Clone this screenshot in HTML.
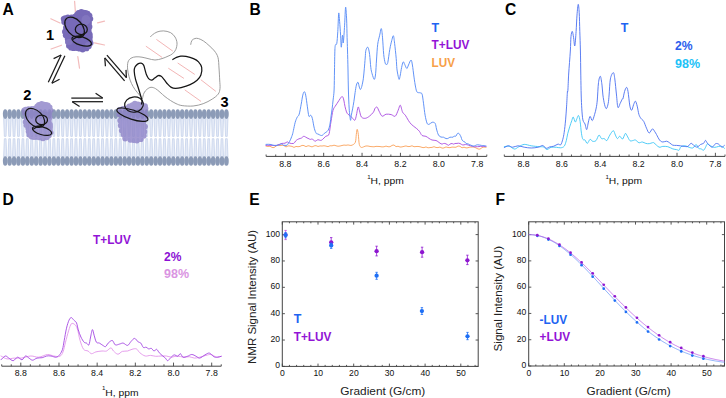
<!DOCTYPE html>
<html><head><meta charset="utf-8"><style>
html,body{margin:0;padding:0;background:#fff;}
svg{display:block;}
text{font-family:"Liberation Sans",sans-serif;}
</style></head><body>
<svg width="726" height="398" viewBox="0 0 726 398">
<rect width="726" height="398" fill="#fff"/>
<path d="M3.65,118 L4.35,136.4 L6.05,136.4 L6.75,118 M3.65,157 L4.35,138.7 L6.05,138.7 L6.75,157 M8.07,118 L8.77,136.4 L10.47,136.4 L11.17,118 M8.07,157 L8.77,138.7 L10.47,138.7 L11.17,157 M12.50,118 L13.20,136.4 L14.90,136.4 L15.60,118 M12.50,157 L13.20,138.7 L14.90,138.7 L15.60,157 M16.92,118 L17.62,136.4 L19.32,136.4 L20.02,118 M16.92,157 L17.62,138.7 L19.32,138.7 L20.02,157 M21.35,118 L22.05,136.4 L23.75,136.4 L24.45,118 M21.35,157 L22.05,138.7 L23.75,138.7 L24.45,157 M25.77,118 L26.47,136.4 L28.17,136.4 L28.87,118 M25.77,157 L26.47,138.7 L28.17,138.7 L28.87,157 M30.19,118 L30.89,136.4 L32.59,136.4 L33.29,118 M30.19,157 L30.89,138.7 L32.59,138.7 L33.29,157 M34.62,118 L35.32,136.4 L37.02,136.4 L37.72,118 M34.62,157 L35.32,138.7 L37.02,138.7 L37.72,157 M39.04,118 L39.74,136.4 L41.44,136.4 L42.14,118 M39.04,157 L39.74,138.7 L41.44,138.7 L42.14,157 M43.47,118 L44.17,136.4 L45.87,136.4 L46.57,118 M43.47,157 L44.17,138.7 L45.87,138.7 L46.57,157 M47.89,118 L48.59,136.4 L50.29,136.4 L50.99,118 M47.89,157 L48.59,138.7 L50.29,138.7 L50.99,157 M52.31,118 L53.01,136.4 L54.71,136.4 L55.41,118 M52.31,157 L53.01,138.7 L54.71,138.7 L55.41,157 M56.74,118 L57.44,136.4 L59.14,136.4 L59.84,118 M56.74,157 L57.44,138.7 L59.14,138.7 L59.84,157 M61.16,118 L61.86,136.4 L63.56,136.4 L64.26,118 M61.16,157 L61.86,138.7 L63.56,138.7 L64.26,157 M65.59,118 L66.29,136.4 L67.99,136.4 L68.69,118 M65.59,157 L66.29,138.7 L67.99,138.7 L68.69,157 M70.01,118 L70.71,136.4 L72.41,136.4 L73.11,118 M70.01,157 L70.71,138.7 L72.41,138.7 L73.11,157 M74.43,118 L75.13,136.4 L76.83,136.4 L77.53,118 M74.43,157 L75.13,138.7 L76.83,138.7 L77.53,157 M78.86,118 L79.56,136.4 L81.26,136.4 L81.96,118 M78.86,157 L79.56,138.7 L81.26,138.7 L81.96,157 M83.28,118 L83.98,136.4 L85.68,136.4 L86.38,118 M83.28,157 L83.98,138.7 L85.68,138.7 L86.38,157 M87.71,118 L88.41,136.4 L90.11,136.4 L90.81,118 M87.71,157 L88.41,138.7 L90.11,138.7 L90.81,157 M92.13,118 L92.83,136.4 L94.53,136.4 L95.23,118 M92.13,157 L92.83,138.7 L94.53,138.7 L95.23,157 M96.55,118 L97.25,136.4 L98.95,136.4 L99.65,118 M96.55,157 L97.25,138.7 L98.95,138.7 L99.65,157 M100.98,118 L101.68,136.4 L103.38,136.4 L104.08,118 M100.98,157 L101.68,138.7 L103.38,138.7 L104.08,157 M105.40,118 L106.10,136.4 L107.80,136.4 L108.50,118 M105.40,157 L106.10,138.7 L107.80,138.7 L108.50,157 M109.83,118 L110.53,136.4 L112.23,136.4 L112.93,118 M109.83,157 L110.53,138.7 L112.23,138.7 L112.93,157 M114.25,118 L114.95,136.4 L116.65,136.4 L117.35,118 M114.25,157 L114.95,138.7 L116.65,138.7 L117.35,157 M118.67,118 L119.37,136.4 L121.07,136.4 L121.77,118 M118.67,157 L119.37,138.7 L121.07,138.7 L121.77,157 M123.10,118 L123.80,136.4 L125.50,136.4 L126.20,118 M123.10,157 L123.80,138.7 L125.50,138.7 L126.20,157 M127.52,118 L128.22,136.4 L129.92,136.4 L130.62,118 M127.52,157 L128.22,138.7 L129.92,138.7 L130.62,157 M131.95,118 L132.65,136.4 L134.35,136.4 L135.05,118 M131.95,157 L132.65,138.7 L134.35,138.7 L135.05,157 M136.37,118 L137.07,136.4 L138.77,136.4 L139.47,118 M136.37,157 L137.07,138.7 L138.77,138.7 L139.47,157 M140.79,118 L141.49,136.4 L143.19,136.4 L143.89,118 M140.79,157 L141.49,138.7 L143.19,138.7 L143.89,157 M145.22,118 L145.92,136.4 L147.62,136.4 L148.32,118 M145.22,157 L145.92,138.7 L147.62,138.7 L148.32,157 M149.64,118 L150.34,136.4 L152.04,136.4 L152.74,118 M149.64,157 L150.34,138.7 L152.04,138.7 L152.74,157 M154.07,118 L154.77,136.4 L156.47,136.4 L157.17,118 M154.07,157 L154.77,138.7 L156.47,138.7 L157.17,157 M158.49,118 L159.19,136.4 L160.89,136.4 L161.59,118 M158.49,157 L159.19,138.7 L160.89,138.7 L161.59,157 M162.91,118 L163.61,136.4 L165.31,136.4 L166.01,118 M162.91,157 L163.61,138.7 L165.31,138.7 L166.01,157 M167.34,118 L168.04,136.4 L169.74,136.4 L170.44,118 M167.34,157 L168.04,138.7 L169.74,138.7 L170.44,157 M171.76,118 L172.46,136.4 L174.16,136.4 L174.86,118 M171.76,157 L172.46,138.7 L174.16,138.7 L174.86,157 M176.19,118 L176.89,136.4 L178.59,136.4 L179.29,118 M176.19,157 L176.89,138.7 L178.59,138.7 L179.29,157 M180.61,118 L181.31,136.4 L183.01,136.4 L183.71,118 M180.61,157 L181.31,138.7 L183.01,138.7 L183.71,157 M185.03,118 L185.73,136.4 L187.43,136.4 L188.13,118 M185.03,157 L185.73,138.7 L187.43,138.7 L188.13,157 M189.46,118 L190.16,136.4 L191.86,136.4 L192.56,118 M189.46,157 L190.16,138.7 L191.86,138.7 L192.56,157 M193.88,118 L194.58,136.4 L196.28,136.4 L196.98,118 M193.88,157 L194.58,138.7 L196.28,138.7 L196.98,157 M198.31,118 L199.01,136.4 L200.71,136.4 L201.41,118 M198.31,157 L199.01,138.7 L200.71,138.7 L201.41,157 M202.73,118 L203.43,136.4 L205.13,136.4 L205.83,118 M202.73,157 L203.43,138.7 L205.13,138.7 L205.83,157 M207.15,118 L207.85,136.4 L209.55,136.4 L210.25,118 M207.15,157 L207.85,138.7 L209.55,138.7 L210.25,157 M211.58,118 L212.28,136.4 L213.98,136.4 L214.68,118 M211.58,157 L212.28,138.7 L213.98,138.7 L214.68,157 M216.00,118 L216.70,136.4 L218.40,136.4 L219.10,118 M216.00,157 L216.70,138.7 L218.40,138.7 L219.10,157 M220.43,118 L221.13,136.4 L222.83,136.4 L223.53,118 M220.43,157 L221.13,138.7 L222.83,138.7 L223.53,157 M224.85,118 L225.55,136.4 L227.25,136.4 L227.95,118 M224.85,157 L225.55,138.7 L227.25,138.7 L227.95,157" fill="#e3e9f6" stroke="#c9d5ec" stroke-width="0.85"/>
<g fill="#8c9bb7"><ellipse cx="5.20" cy="114.1" rx="2.35" ry="4.85"/><ellipse cx="5.20" cy="161.0" rx="2.35" ry="4.85"/><ellipse cx="9.62" cy="114.1" rx="2.35" ry="4.85"/><ellipse cx="9.62" cy="161.0" rx="2.35" ry="4.85"/><ellipse cx="14.05" cy="114.1" rx="2.35" ry="4.85"/><ellipse cx="14.05" cy="161.0" rx="2.35" ry="4.85"/><ellipse cx="18.47" cy="114.1" rx="2.35" ry="4.85"/><ellipse cx="18.47" cy="161.0" rx="2.35" ry="4.85"/><ellipse cx="22.90" cy="114.1" rx="2.35" ry="4.85"/><ellipse cx="22.90" cy="161.0" rx="2.35" ry="4.85"/><ellipse cx="27.32" cy="114.1" rx="2.35" ry="4.85"/><ellipse cx="27.32" cy="161.0" rx="2.35" ry="4.85"/><ellipse cx="31.74" cy="114.1" rx="2.35" ry="4.85"/><ellipse cx="31.74" cy="161.0" rx="2.35" ry="4.85"/><ellipse cx="36.17" cy="114.1" rx="2.35" ry="4.85"/><ellipse cx="36.17" cy="161.0" rx="2.35" ry="4.85"/><ellipse cx="40.59" cy="114.1" rx="2.35" ry="4.85"/><ellipse cx="40.59" cy="161.0" rx="2.35" ry="4.85"/><ellipse cx="45.02" cy="114.1" rx="2.35" ry="4.85"/><ellipse cx="45.02" cy="161.0" rx="2.35" ry="4.85"/><ellipse cx="49.44" cy="114.1" rx="2.35" ry="4.85"/><ellipse cx="49.44" cy="161.0" rx="2.35" ry="4.85"/><ellipse cx="53.86" cy="114.1" rx="2.35" ry="4.85"/><ellipse cx="53.86" cy="161.0" rx="2.35" ry="4.85"/><ellipse cx="58.29" cy="114.1" rx="2.35" ry="4.85"/><ellipse cx="58.29" cy="161.0" rx="2.35" ry="4.85"/><ellipse cx="62.71" cy="114.1" rx="2.35" ry="4.85"/><ellipse cx="62.71" cy="161.0" rx="2.35" ry="4.85"/><ellipse cx="67.14" cy="114.1" rx="2.35" ry="4.85"/><ellipse cx="67.14" cy="161.0" rx="2.35" ry="4.85"/><ellipse cx="71.56" cy="114.1" rx="2.35" ry="4.85"/><ellipse cx="71.56" cy="161.0" rx="2.35" ry="4.85"/><ellipse cx="75.98" cy="114.1" rx="2.35" ry="4.85"/><ellipse cx="75.98" cy="161.0" rx="2.35" ry="4.85"/><ellipse cx="80.41" cy="114.1" rx="2.35" ry="4.85"/><ellipse cx="80.41" cy="161.0" rx="2.35" ry="4.85"/><ellipse cx="84.83" cy="114.1" rx="2.35" ry="4.85"/><ellipse cx="84.83" cy="161.0" rx="2.35" ry="4.85"/><ellipse cx="89.26" cy="114.1" rx="2.35" ry="4.85"/><ellipse cx="89.26" cy="161.0" rx="2.35" ry="4.85"/><ellipse cx="93.68" cy="114.1" rx="2.35" ry="4.85"/><ellipse cx="93.68" cy="161.0" rx="2.35" ry="4.85"/><ellipse cx="98.10" cy="114.1" rx="2.35" ry="4.85"/><ellipse cx="98.10" cy="161.0" rx="2.35" ry="4.85"/><ellipse cx="102.53" cy="114.1" rx="2.35" ry="4.85"/><ellipse cx="102.53" cy="161.0" rx="2.35" ry="4.85"/><ellipse cx="106.95" cy="114.1" rx="2.35" ry="4.85"/><ellipse cx="106.95" cy="161.0" rx="2.35" ry="4.85"/><ellipse cx="111.38" cy="114.1" rx="2.35" ry="4.85"/><ellipse cx="111.38" cy="161.0" rx="2.35" ry="4.85"/><ellipse cx="115.80" cy="114.1" rx="2.35" ry="4.85"/><ellipse cx="115.80" cy="161.0" rx="2.35" ry="4.85"/><ellipse cx="120.22" cy="114.1" rx="2.35" ry="4.85"/><ellipse cx="120.22" cy="161.0" rx="2.35" ry="4.85"/><ellipse cx="124.65" cy="114.1" rx="2.35" ry="4.85"/><ellipse cx="124.65" cy="161.0" rx="2.35" ry="4.85"/><ellipse cx="129.07" cy="114.1" rx="2.35" ry="4.85"/><ellipse cx="129.07" cy="161.0" rx="2.35" ry="4.85"/><ellipse cx="133.50" cy="114.1" rx="2.35" ry="4.85"/><ellipse cx="133.50" cy="161.0" rx="2.35" ry="4.85"/><ellipse cx="137.92" cy="114.1" rx="2.35" ry="4.85"/><ellipse cx="137.92" cy="161.0" rx="2.35" ry="4.85"/><ellipse cx="142.34" cy="114.1" rx="2.35" ry="4.85"/><ellipse cx="142.34" cy="161.0" rx="2.35" ry="4.85"/><ellipse cx="146.77" cy="114.1" rx="2.35" ry="4.85"/><ellipse cx="146.77" cy="161.0" rx="2.35" ry="4.85"/><ellipse cx="151.19" cy="114.1" rx="2.35" ry="4.85"/><ellipse cx="151.19" cy="161.0" rx="2.35" ry="4.85"/><ellipse cx="155.62" cy="114.1" rx="2.35" ry="4.85"/><ellipse cx="155.62" cy="161.0" rx="2.35" ry="4.85"/><ellipse cx="160.04" cy="114.1" rx="2.35" ry="4.85"/><ellipse cx="160.04" cy="161.0" rx="2.35" ry="4.85"/><ellipse cx="164.46" cy="114.1" rx="2.35" ry="4.85"/><ellipse cx="164.46" cy="161.0" rx="2.35" ry="4.85"/><ellipse cx="168.89" cy="114.1" rx="2.35" ry="4.85"/><ellipse cx="168.89" cy="161.0" rx="2.35" ry="4.85"/><ellipse cx="173.31" cy="114.1" rx="2.35" ry="4.85"/><ellipse cx="173.31" cy="161.0" rx="2.35" ry="4.85"/><ellipse cx="177.74" cy="114.1" rx="2.35" ry="4.85"/><ellipse cx="177.74" cy="161.0" rx="2.35" ry="4.85"/><ellipse cx="182.16" cy="114.1" rx="2.35" ry="4.85"/><ellipse cx="182.16" cy="161.0" rx="2.35" ry="4.85"/><ellipse cx="186.58" cy="114.1" rx="2.35" ry="4.85"/><ellipse cx="186.58" cy="161.0" rx="2.35" ry="4.85"/><ellipse cx="191.01" cy="114.1" rx="2.35" ry="4.85"/><ellipse cx="191.01" cy="161.0" rx="2.35" ry="4.85"/><ellipse cx="195.43" cy="114.1" rx="2.35" ry="4.85"/><ellipse cx="195.43" cy="161.0" rx="2.35" ry="4.85"/><ellipse cx="199.86" cy="114.1" rx="2.35" ry="4.85"/><ellipse cx="199.86" cy="161.0" rx="2.35" ry="4.85"/><ellipse cx="204.28" cy="114.1" rx="2.35" ry="4.85"/><ellipse cx="204.28" cy="161.0" rx="2.35" ry="4.85"/><ellipse cx="208.70" cy="114.1" rx="2.35" ry="4.85"/><ellipse cx="208.70" cy="161.0" rx="2.35" ry="4.85"/><ellipse cx="213.13" cy="114.1" rx="2.35" ry="4.85"/><ellipse cx="213.13" cy="161.0" rx="2.35" ry="4.85"/><ellipse cx="217.55" cy="114.1" rx="2.35" ry="4.85"/><ellipse cx="217.55" cy="161.0" rx="2.35" ry="4.85"/><ellipse cx="221.98" cy="114.1" rx="2.35" ry="4.85"/><ellipse cx="221.98" cy="161.0" rx="2.35" ry="4.85"/><ellipse cx="226.40" cy="114.1" rx="2.35" ry="4.85"/><ellipse cx="226.40" cy="161.0" rx="2.35" ry="4.85"/></g>
<g stroke="#f3bcbc" stroke-width="1.2" stroke-linecap="round"><line x1="74.6" y1="1.4" x2="75.4" y2="12.0"/><line x1="50.8" y1="18.8" x2="60.0" y2="23.0"/><line x1="97.6" y1="22.8" x2="104.5" y2="21.2"/><line x1="51.1" y1="49" x2="61.5" y2="45.2"/><line x1="94.5" y1="42.8" x2="104.5" y2="45"/><line x1="77.8" y1="56.7" x2="79.5" y2="68.1"/></g>
<g stroke="#f0a8a8" stroke-width="0.85" stroke-linecap="round"><line x1="156.7" y1="39.6" x2="172.5" y2="50.9"/><line x1="146.2" y1="46.4" x2="161.8" y2="57.2"/><line x1="178" y1="63.2" x2="194.4" y2="74.2"/><line x1="168.6" y1="68.4" x2="183.6" y2="78.2"/><line x1="201.2" y1="80" x2="215.5" y2="91.1"/><line x1="185.1" y1="90.1" x2="200.7" y2="101.2"/></g>
<g fill="#776ab8" opacity="1.0" ><path d="M64.0,19.0 L65.4,18.3 L68.1,17.8 L71.7,17.7 L75.0,17.1 L77.0,15.0 L78.5,13.4 L81.2,12.3 L83.6,13.1 L85.5,13.3 L87.4,14.0 L89.2,15.9 L90.0,19.2 L88.6,22.4 L88.4,24.1 L89.1,26.9 L88.2,29.1 L88.3,31.5 L89.4,34.2 L89.6,36.8 L89.4,40.0 L90.3,42.8 L88.6,45.9 L86.3,48.0 L82.6,49.1 L79.4,48.2 L76.8,47.6 L73.7,47.7 L71.2,47.3 L69.1,45.5 L68.3,41.8 L68.0,38.4 L66.1,35.1 L65.4,31.6 L66.4,27.8 L67.0,24.8 L64.5,22.2Z"/><circle cx="63.65" cy="18.79" r="2.9"/><circle cx="65.11" cy="18.07" r="2.9"/><circle cx="67.85" cy="17.44" r="2.9"/><circle cx="71.43" cy="17.36" r="2.9"/><circle cx="74.89" cy="16.64" r="2.9"/><circle cx="76.93" cy="14.53" r="2.9"/><circle cx="78.54" cy="12.95" r="2.9"/><circle cx="81.31" cy="11.83" r="2.9"/><circle cx="83.72" cy="12.64" r="2.9"/><circle cx="85.64" cy="12.94" r="2.9"/><circle cx="87.65" cy="13.60" r="2.9"/><circle cx="89.51" cy="15.58" r="2.9"/><circle cx="90.37" cy="18.86" r="2.9"/><circle cx="88.97" cy="22.11" r="2.9"/><circle cx="88.80" cy="23.85" r="2.9"/><circle cx="89.53" cy="26.77" r="2.9"/><circle cx="88.65" cy="29.10" r="2.9"/><circle cx="88.70" cy="31.54" r="2.9"/><circle cx="89.78" cy="34.38" r="2.9"/><circle cx="89.92" cy="37.05" r="2.9"/><circle cx="89.74" cy="40.27" r="2.9"/><circle cx="90.59" cy="43.12" r="2.9"/><circle cx="88.79" cy="46.24" r="2.9"/><circle cx="86.46" cy="48.45" r="2.9"/><circle cx="82.67" cy="49.50" r="2.9"/><circle cx="79.41" cy="48.65" r="2.9"/><circle cx="76.70" cy="48.06" r="2.9"/><circle cx="73.54" cy="48.15" r="2.9"/><circle cx="71.07" cy="47.66" r="2.9"/><circle cx="68.92" cy="45.84" r="2.9"/><circle cx="67.99" cy="42.10" r="2.9"/><circle cx="67.63" cy="38.65" r="2.9"/><circle cx="65.72" cy="35.28" r="2.9"/><circle cx="64.92" cy="31.67" r="2.9"/><circle cx="65.93" cy="27.77" r="2.9"/><circle cx="66.56" cy="24.62" r="2.9"/><circle cx="64.16" cy="22.05" r="2.9"/></g>
<g fill="#8d82c7" opacity="0.8" transform="translate(22.4,101.1) scale(0.98,0.925) translate(-61.7,-9.1)"><path d="M64.0,19.0 L65.4,18.3 L68.1,17.8 L71.7,17.7 L75.0,17.1 L77.0,15.0 L78.5,13.4 L81.2,12.3 L83.6,13.1 L85.5,13.3 L87.4,14.0 L89.2,15.9 L90.0,19.2 L88.6,22.4 L88.4,24.1 L89.1,26.9 L88.2,29.1 L88.3,31.5 L89.4,34.2 L89.6,36.8 L89.4,40.0 L90.3,42.8 L88.6,45.9 L86.3,48.0 L82.6,49.1 L79.4,48.2 L76.8,47.6 L73.7,47.7 L71.2,47.3 L69.1,45.5 L68.3,41.8 L68.0,38.4 L66.1,35.1 L65.4,31.6 L66.4,27.8 L67.0,24.8 L64.5,22.2Z"/><circle cx="63.65" cy="18.79" r="2.9"/><circle cx="65.11" cy="18.07" r="2.9"/><circle cx="67.85" cy="17.44" r="2.9"/><circle cx="71.43" cy="17.36" r="2.9"/><circle cx="74.89" cy="16.64" r="2.9"/><circle cx="76.93" cy="14.53" r="2.9"/><circle cx="78.54" cy="12.95" r="2.9"/><circle cx="81.31" cy="11.83" r="2.9"/><circle cx="83.72" cy="12.64" r="2.9"/><circle cx="85.64" cy="12.94" r="2.9"/><circle cx="87.65" cy="13.60" r="2.9"/><circle cx="89.51" cy="15.58" r="2.9"/><circle cx="90.37" cy="18.86" r="2.9"/><circle cx="88.97" cy="22.11" r="2.9"/><circle cx="88.80" cy="23.85" r="2.9"/><circle cx="89.53" cy="26.77" r="2.9"/><circle cx="88.65" cy="29.10" r="2.9"/><circle cx="88.70" cy="31.54" r="2.9"/><circle cx="89.78" cy="34.38" r="2.9"/><circle cx="89.92" cy="37.05" r="2.9"/><circle cx="89.74" cy="40.27" r="2.9"/><circle cx="90.59" cy="43.12" r="2.9"/><circle cx="88.79" cy="46.24" r="2.9"/><circle cx="86.46" cy="48.45" r="2.9"/><circle cx="82.67" cy="49.50" r="2.9"/><circle cx="79.41" cy="48.65" r="2.9"/><circle cx="76.70" cy="48.06" r="2.9"/><circle cx="73.54" cy="48.15" r="2.9"/><circle cx="71.07" cy="47.66" r="2.9"/><circle cx="68.92" cy="45.84" r="2.9"/><circle cx="67.99" cy="42.10" r="2.9"/><circle cx="67.63" cy="38.65" r="2.9"/><circle cx="65.72" cy="35.28" r="2.9"/><circle cx="64.92" cy="31.67" r="2.9"/><circle cx="65.93" cy="27.77" r="2.9"/><circle cx="66.56" cy="24.62" r="2.9"/><circle cx="64.16" cy="22.05" r="2.9"/></g>
<g fill="#8d82c7" opacity="0.8" ><path d="M126.3,108.8 L129.4,106.9 L132.5,105.6 L134.9,104.1 L137.9,104.8 L141.6,105.3 L144.8,106.4 L145.2,108.8 L144.2,112.4 L145.1,116.6 L143.2,119.4 L143.0,121.7 L144.6,126.3 L144.1,131.4 L143.5,135.4 L140.5,138.8 L136.8,140.1 L133.6,139.6 L130.5,139.4 L125.4,138.2 L123.8,134.1 L122.2,130.3 L121.2,125.4 L120.7,120.6 L119.8,114.5 L120.1,110.1 L123.3,109.1Z"/><circle cx="126.04" cy="108.48" r="2.9"/><circle cx="129.30" cy="106.50" r="2.9"/><circle cx="132.40" cy="105.14" r="2.9"/><circle cx="134.87" cy="103.65" r="2.9"/><circle cx="137.96" cy="104.38" r="2.9"/><circle cx="141.78" cy="104.87" r="2.9"/><circle cx="145.03" cy="106.09" r="2.9"/><circle cx="145.50" cy="108.49" r="2.9"/><circle cx="144.54" cy="112.11" r="2.9"/><circle cx="145.50" cy="116.41" r="2.9"/><circle cx="143.66" cy="119.31" r="2.9"/><circle cx="143.47" cy="121.71" r="2.9"/><circle cx="145.00" cy="126.55" r="2.9"/><circle cx="144.35" cy="131.75" r="2.9"/><circle cx="143.74" cy="135.77" r="2.9"/><circle cx="140.69" cy="139.20" r="2.9"/><circle cx="136.83" cy="140.57" r="2.9"/><circle cx="133.57" cy="140.05" r="2.9"/><circle cx="130.41" cy="139.79" r="2.9"/><circle cx="125.21" cy="138.62" r="2.9"/><circle cx="123.55" cy="134.49" r="2.9"/><circle cx="121.82" cy="130.54" r="2.9"/><circle cx="120.77" cy="125.51" r="2.9"/><circle cx="120.25" cy="120.57" r="2.9"/><circle cx="119.35" cy="114.34" r="2.9"/><circle cx="119.72" cy="109.83" r="2.9"/><circle cx="123.00" cy="108.79" r="2.9"/></g>
<g fill="#9c92d2" opacity="0.30"><ellipse cx="86" cy="20" rx="4.5" ry="5"/><ellipse cx="69" cy="42" rx="3.5" ry="3"/><ellipse cx="88" cy="45" rx="3" ry="3"/></g>
<g fill="#a29ad8" opacity="0.25"><ellipse cx="47" cy="108" rx="4.5" ry="4"/><ellipse cx="30" cy="132" rx="4" ry="4"/><ellipse cx="139" cy="132" rx="5" ry="5"/><ellipse cx="124" cy="124" rx="3.5" ry="4"/><ellipse cx="128" cy="138" rx="3" ry="3"/></g>
<path d="M142.50,98.50 C142.00,97.92 140.75,96.50 139.50,95.00 C138.25,93.50 136.33,91.42 135.00,89.50 C133.67,87.58 132.50,85.67 131.50,83.50 C130.50,81.33 129.65,78.92 129.00,76.50 C128.35,74.08 127.77,71.42 127.60,69.00 C127.43,66.58 127.43,63.80 128.00,62.00 C128.57,60.20 129.67,59.07 131.00,58.20 C132.33,57.33 134.17,56.97 136.00,56.80 C137.83,56.63 140.00,56.90 142.00,57.20 C144.00,57.50 145.83,58.13 148.00,58.60 C150.17,59.07 152.67,60.00 155.00,60.00 C157.33,60.00 159.83,59.23 162.00,58.60 C164.17,57.97 166.25,57.00 168.00,56.20 C169.75,55.40 171.20,54.92 172.50,53.80 C173.80,52.68 175.05,51.30 175.80,49.50 C176.55,47.70 177.13,45.08 177.00,43.00 C176.87,40.92 176.08,38.73 175.00,37.00 C173.92,35.27 172.43,33.62 170.50,32.60 C168.57,31.58 165.65,31.00 163.40,30.90 C161.15,30.80 158.82,31.35 157.00,32.00 C155.18,32.65 153.57,34.03 152.50,34.80 C151.43,35.57 150.92,36.30 150.60,36.60" fill="none" stroke="#929292" stroke-width="0.9" stroke-linejoin="round" stroke-linecap="round" />
<path d="M142.50,98.50 C142.75,97.58 143.25,94.53 144.00,93.00 C144.75,91.47 145.83,90.25 147.00,89.30 C148.17,88.35 149.58,87.42 151.00,87.30 C152.42,87.18 154.00,87.78 155.50,88.60 C157.00,89.42 158.42,90.87 160.00,92.20 C161.58,93.53 163.25,95.22 165.00,96.60 C166.75,97.98 168.67,99.33 170.50,100.50 C172.33,101.67 174.07,102.75 176.00,103.60 C177.93,104.45 179.25,105.20 182.10,105.60 C184.95,106.00 189.58,106.32 193.10,106.00 C196.62,105.68 200.02,104.85 203.20,103.70 C206.38,102.55 209.70,100.70 212.20,99.10 C214.70,97.50 216.90,95.87 218.20,94.10 C219.50,92.33 219.75,90.85 220.00,88.50 C220.25,86.15 219.87,83.42 219.70,80.00 C219.53,76.58 219.28,71.75 219.00,68.00 C218.72,64.25 218.75,60.33 218.00,57.50 C217.25,54.67 216.00,53.00 214.50,51.00 C213.00,49.00 210.83,47.17 209.00,45.50 C207.17,43.83 205.25,42.15 203.50,41.00 C201.75,39.85 199.92,39.02 198.50,38.60 C197.08,38.18 196.12,38.18 195.00,38.50 C193.88,38.82 192.50,39.52 191.80,40.50 C191.10,41.48 190.97,43.75 190.80,44.40" fill="none" stroke="#929292" stroke-width="0.9" stroke-linejoin="round" stroke-linecap="round" />
<path d="M141.50,104.00 C141.58,103.50 142.15,102.42 142.00,101.00 C141.85,99.58 141.25,97.80 140.60,95.50 C139.95,93.20 138.95,89.93 138.10,87.20 C137.25,84.47 136.15,81.78 135.50,79.10 C134.85,76.42 134.28,73.10 134.20,71.10 C134.12,69.10 134.43,68.27 135.00,67.10 C135.57,65.93 136.58,64.75 137.60,64.10 C138.62,63.45 140.10,63.03 141.10,63.20 C142.10,63.37 142.93,63.95 143.60,65.10 C144.27,66.25 144.60,68.43 145.10,70.10 C145.60,71.77 146.02,73.68 146.60,75.10 C147.18,76.52 147.77,77.75 148.60,78.60 C149.43,79.45 150.58,80.28 151.60,80.20 C152.62,80.12 153.60,78.87 154.70,78.10 C155.80,77.33 157.12,75.90 158.20,75.60 C159.28,75.30 160.20,75.63 161.20,76.30 C162.20,76.97 163.12,78.28 164.20,79.60 C165.28,80.92 166.52,82.90 167.70,84.20 C168.88,85.50 170.03,86.70 171.30,87.40 C172.57,88.10 173.67,88.37 175.30,88.40 C176.93,88.43 178.63,88.23 181.10,87.60 C183.57,86.97 187.43,85.83 190.10,84.60 C192.77,83.37 195.30,81.80 197.10,80.20 C198.90,78.60 200.13,77.12 200.90,75.00 C201.67,72.88 202.10,69.70 201.70,67.50 C201.30,65.30 199.87,63.28 198.50,61.80 C197.13,60.32 195.58,59.50 193.50,58.60 C191.42,57.70 188.12,56.80 186.00,56.40 C183.88,56.00 182.38,56.03 180.80,56.20 C179.22,56.37 177.83,56.85 176.50,57.40 C175.17,57.95 173.42,59.15 172.80,59.50" fill="none" stroke="#151515" stroke-width="1.25" stroke-linejoin="round" stroke-linecap="round" />
<g  fill="none" stroke="#151515" stroke-width="1.25"><ellipse cx="74.6" cy="27.3" rx="12.0" ry="7.6" transform="rotate(48 74.6 27.3)"/><ellipse cx="81.3" cy="29.4" rx="6.0" ry="5.2"/><ellipse cx="81.7" cy="41.2" rx="10.2" ry="4.2" transform="rotate(17 81.7 41.2)"/><path d="M84.5,34.2 C81,35.5 76,36.5 72.6,39.6"/></g>
<g transform="translate(22.4,101.1) scale(0.98,0.925) translate(-61.7,-9.1)" fill="none" stroke="#151515" stroke-width="1.25"><ellipse cx="74.6" cy="27.3" rx="12.0" ry="7.6" transform="rotate(48 74.6 27.3)"/><ellipse cx="81.3" cy="29.4" rx="6.0" ry="5.2"/><ellipse cx="81.7" cy="41.2" rx="10.2" ry="4.2" transform="rotate(17 81.7 41.2)"/><path d="M84.5,34.2 C81,35.5 76,36.5 72.6,39.6"/></g>
<ellipse cx="134.0" cy="104.6" rx="9.4" ry="7.6" transform="rotate(-8 134.0 104.6)" fill="none" stroke="#151515" stroke-width="1.2"/>
<ellipse cx="132.4" cy="114.7" rx="16.3" ry="4.7" transform="rotate(18 132.4 114.7)" fill="none" stroke="#151515" stroke-width="1.2"/>
<g stroke="#1a1a1a" stroke-width="1.25" stroke-linecap="butt"><line x1="61.1" y1="55" x2="48.3" y2="82.3"/><line x1="61.1" y1="55" x2="53.6" y2="58.6"/><line x1="64.9" y1="55.8" x2="51.9" y2="83.2"/><line x1="51.9" y1="83.2" x2="59.6" y2="79.3"/><line x1="106.9" y1="55.1" x2="126.4" y2="77.7"/><line x1="126.4" y1="77.7" x2="126.0" y2="69.9"/><line x1="104.8" y1="57.9" x2="124.6" y2="80.8"/><line x1="104.8" y1="57.9" x2="105.4" y2="66.2"/><line x1="71.3" y1="98.1" x2="102.7" y2="98.1"/><line x1="102.7" y1="98.1" x2="95.6" y2="93.3"/><line x1="72.2" y1="101.7" x2="103" y2="101.7"/><line x1="72.2" y1="101.7" x2="79.6" y2="106.5"/></g>
<text x="46.0" y="40.0" font-size="14.6" fill="#000" font-weight="bold" text-anchor="start" >1</text>
<text x="23.2" y="100.1" font-size="14.6" fill="#000" font-weight="bold" text-anchor="start" >2</text>
<text x="220.5" y="106.8" font-size="14.6" fill="#000" font-weight="bold" text-anchor="start" >3</text>
<line x1="266.11" y1="156.4" x2="486.80" y2="156.4" stroke="#444" stroke-width="1"/>
<line x1="266.11" y1="156.4" x2="266.11" y2="154.5" stroke="#444" stroke-width="0.9"/>
<line x1="275.71" y1="156.4" x2="275.71" y2="154.5" stroke="#444" stroke-width="0.9"/>
<line x1="285.30" y1="156.4" x2="285.30" y2="152.8" stroke="#444" stroke-width="0.9"/>
<line x1="294.90" y1="156.4" x2="294.90" y2="154.5" stroke="#444" stroke-width="0.9"/>
<line x1="304.49" y1="156.4" x2="304.49" y2="154.5" stroke="#444" stroke-width="0.9"/>
<line x1="314.09" y1="156.4" x2="314.09" y2="154.5" stroke="#444" stroke-width="0.9"/>
<line x1="323.68" y1="156.4" x2="323.68" y2="152.8" stroke="#444" stroke-width="0.9"/>
<line x1="333.28" y1="156.4" x2="333.28" y2="154.5" stroke="#444" stroke-width="0.9"/>
<line x1="342.87" y1="156.4" x2="342.87" y2="154.5" stroke="#444" stroke-width="0.9"/>
<line x1="352.46" y1="156.4" x2="352.46" y2="154.5" stroke="#444" stroke-width="0.9"/>
<line x1="362.06" y1="156.4" x2="362.06" y2="152.8" stroke="#444" stroke-width="0.9"/>
<line x1="371.66" y1="156.4" x2="371.66" y2="154.5" stroke="#444" stroke-width="0.9"/>
<line x1="381.25" y1="156.4" x2="381.25" y2="154.5" stroke="#444" stroke-width="0.9"/>
<line x1="390.85" y1="156.4" x2="390.85" y2="154.5" stroke="#444" stroke-width="0.9"/>
<line x1="400.44" y1="156.4" x2="400.44" y2="152.8" stroke="#444" stroke-width="0.9"/>
<line x1="410.04" y1="156.4" x2="410.04" y2="154.5" stroke="#444" stroke-width="0.9"/>
<line x1="419.63" y1="156.4" x2="419.63" y2="154.5" stroke="#444" stroke-width="0.9"/>
<line x1="429.23" y1="156.4" x2="429.23" y2="154.5" stroke="#444" stroke-width="0.9"/>
<line x1="438.82" y1="156.4" x2="438.82" y2="152.8" stroke="#444" stroke-width="0.9"/>
<line x1="448.42" y1="156.4" x2="448.42" y2="154.5" stroke="#444" stroke-width="0.9"/>
<line x1="458.01" y1="156.4" x2="458.01" y2="154.5" stroke="#444" stroke-width="0.9"/>
<line x1="467.61" y1="156.4" x2="467.61" y2="154.5" stroke="#444" stroke-width="0.9"/>
<line x1="477.20" y1="156.4" x2="477.20" y2="152.8" stroke="#444" stroke-width="0.9"/>
<line x1="486.80" y1="156.4" x2="486.80" y2="154.5" stroke="#444" stroke-width="0.9"/>
<text x="285.30" y="166.7" font-size="8.9" fill="#111" text-anchor="middle" textLength="12.2" lengthAdjust="spacingAndGlyphs" >8.8</text>
<text x="323.68" y="166.7" font-size="8.9" fill="#111" text-anchor="middle" textLength="12.2" lengthAdjust="spacingAndGlyphs" >8.6</text>
<text x="362.06" y="166.7" font-size="8.9" fill="#111" text-anchor="middle" textLength="12.2" lengthAdjust="spacingAndGlyphs" >8.4</text>
<text x="400.44" y="166.7" font-size="8.9" fill="#111" text-anchor="middle" textLength="12.2" lengthAdjust="spacingAndGlyphs" >8.2</text>
<text x="438.82" y="166.7" font-size="8.9" fill="#111" text-anchor="middle" textLength="12.2" lengthAdjust="spacingAndGlyphs" >8.0</text>
<text x="477.20" y="166.7" font-size="8.9" fill="#111" text-anchor="middle" textLength="12.2" lengthAdjust="spacingAndGlyphs" >7.8</text>
<text x="367.20" y="178.6" font-size="6.2" fill="#111" text-anchor="start" >1</text>
<text x="370.60" y="184.2" font-size="9.6" fill="#111" text-anchor="start" textLength="33.2" lengthAdjust="spacingAndGlyphs" >H, ppm</text>
<line x1="504.31" y1="156.4" x2="725.00" y2="156.4" stroke="#444" stroke-width="1"/>
<line x1="504.31" y1="156.4" x2="504.31" y2="154.5" stroke="#444" stroke-width="0.9"/>
<line x1="513.91" y1="156.4" x2="513.91" y2="154.5" stroke="#444" stroke-width="0.9"/>
<line x1="523.50" y1="156.4" x2="523.50" y2="152.8" stroke="#444" stroke-width="0.9"/>
<line x1="533.10" y1="156.4" x2="533.10" y2="154.5" stroke="#444" stroke-width="0.9"/>
<line x1="542.69" y1="156.4" x2="542.69" y2="154.5" stroke="#444" stroke-width="0.9"/>
<line x1="552.29" y1="156.4" x2="552.29" y2="154.5" stroke="#444" stroke-width="0.9"/>
<line x1="561.88" y1="156.4" x2="561.88" y2="152.8" stroke="#444" stroke-width="0.9"/>
<line x1="571.48" y1="156.4" x2="571.48" y2="154.5" stroke="#444" stroke-width="0.9"/>
<line x1="581.07" y1="156.4" x2="581.07" y2="154.5" stroke="#444" stroke-width="0.9"/>
<line x1="590.66" y1="156.4" x2="590.66" y2="154.5" stroke="#444" stroke-width="0.9"/>
<line x1="600.26" y1="156.4" x2="600.26" y2="152.8" stroke="#444" stroke-width="0.9"/>
<line x1="609.86" y1="156.4" x2="609.86" y2="154.5" stroke="#444" stroke-width="0.9"/>
<line x1="619.45" y1="156.4" x2="619.45" y2="154.5" stroke="#444" stroke-width="0.9"/>
<line x1="629.05" y1="156.4" x2="629.05" y2="154.5" stroke="#444" stroke-width="0.9"/>
<line x1="638.64" y1="156.4" x2="638.64" y2="152.8" stroke="#444" stroke-width="0.9"/>
<line x1="648.24" y1="156.4" x2="648.24" y2="154.5" stroke="#444" stroke-width="0.9"/>
<line x1="657.83" y1="156.4" x2="657.83" y2="154.5" stroke="#444" stroke-width="0.9"/>
<line x1="667.42" y1="156.4" x2="667.42" y2="154.5" stroke="#444" stroke-width="0.9"/>
<line x1="677.02" y1="156.4" x2="677.02" y2="152.8" stroke="#444" stroke-width="0.9"/>
<line x1="686.62" y1="156.4" x2="686.62" y2="154.5" stroke="#444" stroke-width="0.9"/>
<line x1="696.21" y1="156.4" x2="696.21" y2="154.5" stroke="#444" stroke-width="0.9"/>
<line x1="705.81" y1="156.4" x2="705.81" y2="154.5" stroke="#444" stroke-width="0.9"/>
<line x1="715.40" y1="156.4" x2="715.40" y2="152.8" stroke="#444" stroke-width="0.9"/>
<line x1="725.00" y1="156.4" x2="725.00" y2="154.5" stroke="#444" stroke-width="0.9"/>
<text x="523.50" y="166.7" font-size="8.9" fill="#111" text-anchor="middle" textLength="12.2" lengthAdjust="spacingAndGlyphs" >8.8</text>
<text x="561.88" y="166.7" font-size="8.9" fill="#111" text-anchor="middle" textLength="12.2" lengthAdjust="spacingAndGlyphs" >8.6</text>
<text x="600.26" y="166.7" font-size="8.9" fill="#111" text-anchor="middle" textLength="12.2" lengthAdjust="spacingAndGlyphs" >8.4</text>
<text x="638.64" y="166.7" font-size="8.9" fill="#111" text-anchor="middle" textLength="12.2" lengthAdjust="spacingAndGlyphs" >8.2</text>
<text x="677.02" y="166.7" font-size="8.9" fill="#111" text-anchor="middle" textLength="12.2" lengthAdjust="spacingAndGlyphs" >8.0</text>
<text x="715.40" y="166.7" font-size="8.9" fill="#111" text-anchor="middle" textLength="12.2" lengthAdjust="spacingAndGlyphs" >7.8</text>
<text x="605.40" y="178.6" font-size="6.2" fill="#111" text-anchor="start" >1</text>
<text x="608.80" y="184.2" font-size="9.6" fill="#111" text-anchor="start" textLength="33.2" lengthAdjust="spacingAndGlyphs" >H, ppm</text>
<line x1="1.71" y1="366.2" x2="221.25" y2="366.2" stroke="#444" stroke-width="1"/>
<line x1="1.71" y1="366.2" x2="1.71" y2="364.3" stroke="#444" stroke-width="0.9"/>
<line x1="11.26" y1="366.2" x2="11.26" y2="364.3" stroke="#444" stroke-width="0.9"/>
<line x1="20.80" y1="366.2" x2="20.80" y2="362.59999999999997" stroke="#444" stroke-width="0.9"/>
<line x1="30.35" y1="366.2" x2="30.35" y2="364.3" stroke="#444" stroke-width="0.9"/>
<line x1="39.89" y1="366.2" x2="39.89" y2="364.3" stroke="#444" stroke-width="0.9"/>
<line x1="49.44" y1="366.2" x2="49.44" y2="364.3" stroke="#444" stroke-width="0.9"/>
<line x1="58.98" y1="366.2" x2="58.98" y2="362.59999999999997" stroke="#444" stroke-width="0.9"/>
<line x1="68.53" y1="366.2" x2="68.53" y2="364.3" stroke="#444" stroke-width="0.9"/>
<line x1="78.07" y1="366.2" x2="78.07" y2="364.3" stroke="#444" stroke-width="0.9"/>
<line x1="87.61" y1="366.2" x2="87.61" y2="364.3" stroke="#444" stroke-width="0.9"/>
<line x1="97.16" y1="366.2" x2="97.16" y2="362.59999999999997" stroke="#444" stroke-width="0.9"/>
<line x1="106.71" y1="366.2" x2="106.71" y2="364.3" stroke="#444" stroke-width="0.9"/>
<line x1="116.25" y1="366.2" x2="116.25" y2="364.3" stroke="#444" stroke-width="0.9"/>
<line x1="125.80" y1="366.2" x2="125.80" y2="364.3" stroke="#444" stroke-width="0.9"/>
<line x1="135.34" y1="366.2" x2="135.34" y2="362.59999999999997" stroke="#444" stroke-width="0.9"/>
<line x1="144.89" y1="366.2" x2="144.89" y2="364.3" stroke="#444" stroke-width="0.9"/>
<line x1="154.43" y1="366.2" x2="154.43" y2="364.3" stroke="#444" stroke-width="0.9"/>
<line x1="163.98" y1="366.2" x2="163.98" y2="364.3" stroke="#444" stroke-width="0.9"/>
<line x1="173.52" y1="366.2" x2="173.52" y2="362.59999999999997" stroke="#444" stroke-width="0.9"/>
<line x1="183.07" y1="366.2" x2="183.07" y2="364.3" stroke="#444" stroke-width="0.9"/>
<line x1="192.61" y1="366.2" x2="192.61" y2="364.3" stroke="#444" stroke-width="0.9"/>
<line x1="202.16" y1="366.2" x2="202.16" y2="364.3" stroke="#444" stroke-width="0.9"/>
<line x1="211.70" y1="366.2" x2="211.70" y2="362.59999999999997" stroke="#444" stroke-width="0.9"/>
<line x1="221.25" y1="366.2" x2="221.25" y2="364.3" stroke="#444" stroke-width="0.9"/>
<text x="20.80" y="376.0" font-size="8.9" fill="#111" text-anchor="middle" textLength="12.2" lengthAdjust="spacingAndGlyphs" >8.8</text>
<text x="58.98" y="376.0" font-size="8.9" fill="#111" text-anchor="middle" textLength="12.2" lengthAdjust="spacingAndGlyphs" >8.6</text>
<text x="97.16" y="376.0" font-size="8.9" fill="#111" text-anchor="middle" textLength="12.2" lengthAdjust="spacingAndGlyphs" >8.4</text>
<text x="135.34" y="376.0" font-size="8.9" fill="#111" text-anchor="middle" textLength="12.2" lengthAdjust="spacingAndGlyphs" >8.2</text>
<text x="173.52" y="376.0" font-size="8.9" fill="#111" text-anchor="middle" textLength="12.2" lengthAdjust="spacingAndGlyphs" >8.0</text>
<text x="211.70" y="376.0" font-size="8.9" fill="#111" text-anchor="middle" textLength="12.2" lengthAdjust="spacingAndGlyphs" >7.8</text>
<text x="101.90" y="389.9" font-size="6.2" fill="#111" text-anchor="start" >1</text>
<text x="105.30" y="395.5" font-size="9.6" fill="#111" text-anchor="start" textLength="33.2" lengthAdjust="spacingAndGlyphs" >H, ppm</text>
<text x="2.6" y="14.9" font-size="15.6" fill="#000" font-weight="bold" text-anchor="start" >A</text>
<text x="249.4" y="14.9" font-size="15.6" fill="#000" font-weight="bold" text-anchor="start" >B</text>
<text x="505.0" y="14.9" font-size="15.6" fill="#000" font-weight="bold" text-anchor="start" >C</text>
<text x="2.4" y="205" font-size="15.6" fill="#000" font-weight="bold" text-anchor="start" >D</text>
<text x="249.2" y="204.6" font-size="15.6" fill="#000" font-weight="bold" text-anchor="start" >E</text>
<text x="495.6" y="204.6" font-size="15.6" fill="#000" font-weight="bold" text-anchor="start" >F</text>
<text x="431.6" y="31.9" font-size="12.5" fill="#2063f2" font-weight="bold" text-anchor="start" >T</text>
<text x="431.6" y="49.4" font-size="12.5" fill="#9214d6" font-weight="bold" text-anchor="start" textLength="37.8" lengthAdjust="spacingAndGlyphs" >T+LUV</text>
<text x="431.6" y="67.0" font-size="12.5" fill="#f7a048" font-weight="bold" text-anchor="start" textLength="23.4" lengthAdjust="spacingAndGlyphs" >LUV</text>
<text x="620.8" y="32.1" font-size="12.5" fill="#2063f2" font-weight="bold" text-anchor="start" >T</text>
<text x="675.0" y="50.0" font-size="12.5" fill="#2a5ced" font-weight="bold" text-anchor="start" textLength="17.6" lengthAdjust="spacingAndGlyphs" >2%</text>
<text x="675.0" y="67.5" font-size="12.5" fill="#22c2f7" font-weight="bold" text-anchor="start" textLength="25.0" lengthAdjust="spacingAndGlyphs" >98%</text>
<text x="93.0" y="243.5" font-size="12.5" fill="#9214d6" font-weight="bold" text-anchor="start" textLength="37.8" lengthAdjust="spacingAndGlyphs" >T+LUV</text>
<text x="164.1" y="261.1" font-size="12.5" fill="#8c0fd4" font-weight="bold" text-anchor="start" textLength="17.4" lengthAdjust="spacingAndGlyphs" >2%</text>
<text x="164.1" y="278.3" font-size="12.5" fill="#da94e2" font-weight="bold" text-anchor="start" textLength="25.0" lengthAdjust="spacingAndGlyphs" >98%</text>
<text x="293.7" y="322.7" font-size="12.5" fill="#2063f2" font-weight="bold" text-anchor="start" >T</text>
<text x="293.7" y="340.6" font-size="12.5" fill="#9214d6" font-weight="bold" text-anchor="start" textLength="37.8" lengthAdjust="spacingAndGlyphs" >T+LUV</text>
<text x="539.5" y="324.1" font-size="12.5" fill="#2063f2" font-weight="bold" text-anchor="start" textLength="27.6" lengthAdjust="spacingAndGlyphs" >-LUV</text>
<text x="539.5" y="341.4" font-size="12.5" fill="#9214d6" font-weight="bold" text-anchor="start" textLength="30.6" lengthAdjust="spacingAndGlyphs" >+LUV</text>
<rect x="282.3" y="221.8" width="195.89999999999998" height="144.59999999999997" fill="none" stroke="#444" stroke-width="1"/>
<line x1="282.30" y1="366.4" x2="282.30" y2="363.59999999999997" stroke="#444" stroke-width="0.9"/>
<line x1="282.30" y1="221.8" x2="282.30" y2="224.60000000000002" stroke="#444" stroke-width="0.9"/>
<text x="282.50" y="376.3" font-size="8.6" fill="#111" text-anchor="middle" >0</text>
<line x1="289.44" y1="366.4" x2="289.44" y2="364.9" stroke="#444" stroke-width="0.9"/>
<line x1="289.44" y1="221.8" x2="289.44" y2="223.3" stroke="#444" stroke-width="0.9"/>
<line x1="296.58" y1="366.4" x2="296.58" y2="364.9" stroke="#444" stroke-width="0.9"/>
<line x1="296.58" y1="221.8" x2="296.58" y2="223.3" stroke="#444" stroke-width="0.9"/>
<line x1="303.72" y1="366.4" x2="303.72" y2="364.9" stroke="#444" stroke-width="0.9"/>
<line x1="303.72" y1="221.8" x2="303.72" y2="223.3" stroke="#444" stroke-width="0.9"/>
<line x1="310.86" y1="366.4" x2="310.86" y2="364.9" stroke="#444" stroke-width="0.9"/>
<line x1="310.86" y1="221.8" x2="310.86" y2="223.3" stroke="#444" stroke-width="0.9"/>
<line x1="318.00" y1="366.4" x2="318.00" y2="363.59999999999997" stroke="#444" stroke-width="0.9"/>
<line x1="318.00" y1="221.8" x2="318.00" y2="224.60000000000002" stroke="#444" stroke-width="0.9"/>
<text x="318.20" y="376.3" font-size="8.6" fill="#111" text-anchor="middle" >10</text>
<line x1="325.14" y1="366.4" x2="325.14" y2="364.9" stroke="#444" stroke-width="0.9"/>
<line x1="325.14" y1="221.8" x2="325.14" y2="223.3" stroke="#444" stroke-width="0.9"/>
<line x1="332.28" y1="366.4" x2="332.28" y2="364.9" stroke="#444" stroke-width="0.9"/>
<line x1="332.28" y1="221.8" x2="332.28" y2="223.3" stroke="#444" stroke-width="0.9"/>
<line x1="339.42" y1="366.4" x2="339.42" y2="364.9" stroke="#444" stroke-width="0.9"/>
<line x1="339.42" y1="221.8" x2="339.42" y2="223.3" stroke="#444" stroke-width="0.9"/>
<line x1="346.56" y1="366.4" x2="346.56" y2="364.9" stroke="#444" stroke-width="0.9"/>
<line x1="346.56" y1="221.8" x2="346.56" y2="223.3" stroke="#444" stroke-width="0.9"/>
<line x1="353.70" y1="366.4" x2="353.70" y2="363.59999999999997" stroke="#444" stroke-width="0.9"/>
<line x1="353.70" y1="221.8" x2="353.70" y2="224.60000000000002" stroke="#444" stroke-width="0.9"/>
<text x="353.90" y="376.3" font-size="8.6" fill="#111" text-anchor="middle" >20</text>
<line x1="360.84" y1="366.4" x2="360.84" y2="364.9" stroke="#444" stroke-width="0.9"/>
<line x1="360.84" y1="221.8" x2="360.84" y2="223.3" stroke="#444" stroke-width="0.9"/>
<line x1="367.98" y1="366.4" x2="367.98" y2="364.9" stroke="#444" stroke-width="0.9"/>
<line x1="367.98" y1="221.8" x2="367.98" y2="223.3" stroke="#444" stroke-width="0.9"/>
<line x1="375.12" y1="366.4" x2="375.12" y2="364.9" stroke="#444" stroke-width="0.9"/>
<line x1="375.12" y1="221.8" x2="375.12" y2="223.3" stroke="#444" stroke-width="0.9"/>
<line x1="382.26" y1="366.4" x2="382.26" y2="364.9" stroke="#444" stroke-width="0.9"/>
<line x1="382.26" y1="221.8" x2="382.26" y2="223.3" stroke="#444" stroke-width="0.9"/>
<line x1="389.40" y1="366.4" x2="389.40" y2="363.59999999999997" stroke="#444" stroke-width="0.9"/>
<line x1="389.40" y1="221.8" x2="389.40" y2="224.60000000000002" stroke="#444" stroke-width="0.9"/>
<text x="389.60" y="376.3" font-size="8.6" fill="#111" text-anchor="middle" >30</text>
<line x1="396.54" y1="366.4" x2="396.54" y2="364.9" stroke="#444" stroke-width="0.9"/>
<line x1="396.54" y1="221.8" x2="396.54" y2="223.3" stroke="#444" stroke-width="0.9"/>
<line x1="403.68" y1="366.4" x2="403.68" y2="364.9" stroke="#444" stroke-width="0.9"/>
<line x1="403.68" y1="221.8" x2="403.68" y2="223.3" stroke="#444" stroke-width="0.9"/>
<line x1="410.82" y1="366.4" x2="410.82" y2="364.9" stroke="#444" stroke-width="0.9"/>
<line x1="410.82" y1="221.8" x2="410.82" y2="223.3" stroke="#444" stroke-width="0.9"/>
<line x1="417.96" y1="366.4" x2="417.96" y2="364.9" stroke="#444" stroke-width="0.9"/>
<line x1="417.96" y1="221.8" x2="417.96" y2="223.3" stroke="#444" stroke-width="0.9"/>
<line x1="425.10" y1="366.4" x2="425.10" y2="363.59999999999997" stroke="#444" stroke-width="0.9"/>
<line x1="425.10" y1="221.8" x2="425.10" y2="224.60000000000002" stroke="#444" stroke-width="0.9"/>
<text x="425.30" y="376.3" font-size="8.6" fill="#111" text-anchor="middle" >40</text>
<line x1="432.24" y1="366.4" x2="432.24" y2="364.9" stroke="#444" stroke-width="0.9"/>
<line x1="432.24" y1="221.8" x2="432.24" y2="223.3" stroke="#444" stroke-width="0.9"/>
<line x1="439.38" y1="366.4" x2="439.38" y2="364.9" stroke="#444" stroke-width="0.9"/>
<line x1="439.38" y1="221.8" x2="439.38" y2="223.3" stroke="#444" stroke-width="0.9"/>
<line x1="446.52" y1="366.4" x2="446.52" y2="364.9" stroke="#444" stroke-width="0.9"/>
<line x1="446.52" y1="221.8" x2="446.52" y2="223.3" stroke="#444" stroke-width="0.9"/>
<line x1="453.66" y1="366.4" x2="453.66" y2="364.9" stroke="#444" stroke-width="0.9"/>
<line x1="453.66" y1="221.8" x2="453.66" y2="223.3" stroke="#444" stroke-width="0.9"/>
<line x1="460.80" y1="366.4" x2="460.80" y2="363.59999999999997" stroke="#444" stroke-width="0.9"/>
<line x1="460.80" y1="221.8" x2="460.80" y2="224.60000000000002" stroke="#444" stroke-width="0.9"/>
<text x="461.00" y="376.3" font-size="8.6" fill="#111" text-anchor="middle" >50</text>
<line x1="467.94" y1="366.4" x2="467.94" y2="364.9" stroke="#444" stroke-width="0.9"/>
<line x1="467.94" y1="221.8" x2="467.94" y2="223.3" stroke="#444" stroke-width="0.9"/>
<line x1="475.08" y1="366.4" x2="475.08" y2="364.9" stroke="#444" stroke-width="0.9"/>
<line x1="475.08" y1="221.8" x2="475.08" y2="223.3" stroke="#444" stroke-width="0.9"/>
<line x1="282.3" y1="366.40" x2="284.90000000000003" y2="366.40" stroke="#444" stroke-width="0.9"/>
<line x1="478.2" y1="366.40" x2="475.59999999999997" y2="366.40" stroke="#444" stroke-width="0.9"/>
<text x="280.00" y="368.40" font-size="8.6" fill="#111" text-anchor="end" >0</text>
<line x1="282.3" y1="340.04" x2="284.90000000000003" y2="340.04" stroke="#444" stroke-width="0.9"/>
<line x1="478.2" y1="340.04" x2="475.59999999999997" y2="340.04" stroke="#444" stroke-width="0.9"/>
<text x="280.00" y="342.04" font-size="8.6" fill="#111" text-anchor="end" >20</text>
<line x1="282.3" y1="313.68" x2="284.90000000000003" y2="313.68" stroke="#444" stroke-width="0.9"/>
<line x1="478.2" y1="313.68" x2="475.59999999999997" y2="313.68" stroke="#444" stroke-width="0.9"/>
<text x="280.00" y="315.68" font-size="8.6" fill="#111" text-anchor="end" >40</text>
<line x1="282.3" y1="287.32" x2="284.90000000000003" y2="287.32" stroke="#444" stroke-width="0.9"/>
<line x1="478.2" y1="287.32" x2="475.59999999999997" y2="287.32" stroke="#444" stroke-width="0.9"/>
<text x="280.00" y="289.32" font-size="8.6" fill="#111" text-anchor="end" >60</text>
<line x1="282.3" y1="260.96" x2="284.90000000000003" y2="260.96" stroke="#444" stroke-width="0.9"/>
<line x1="478.2" y1="260.96" x2="475.59999999999997" y2="260.96" stroke="#444" stroke-width="0.9"/>
<text x="280.00" y="262.96" font-size="8.6" fill="#111" text-anchor="end" >80</text>
<line x1="282.3" y1="234.60" x2="284.90000000000003" y2="234.60" stroke="#444" stroke-width="0.9"/>
<line x1="478.2" y1="234.60" x2="475.59999999999997" y2="234.60" stroke="#444" stroke-width="0.9"/>
<text x="280.00" y="236.60" font-size="8.6" fill="#111" text-anchor="end" >100</text>
<text x="382.80" y="394.8" font-size="11.4" fill="#222" text-anchor="middle" textLength="85.0" lengthAdjust="spacingAndGlyphs" >Gradient (G/cm)</text>
<text transform="translate(256.2,296.9) rotate(-90)" x="0" y="0" font-size="11.2" fill="#222" text-anchor="middle" textLength="134.2" lengthAdjust="spacingAndGlyphs" font-family="Liberation Sans, sans-serif">NMR Signal Intensity (AU)</text>
<rect x="528.7" y="221.8" width="195.79999999999995" height="144.2" fill="none" stroke="#444" stroke-width="1"/>
<line x1="528.70" y1="366.0" x2="528.70" y2="363.2" stroke="#444" stroke-width="0.9"/>
<line x1="528.70" y1="221.8" x2="528.70" y2="224.60000000000002" stroke="#444" stroke-width="0.9"/>
<text x="528.90" y="376.3" font-size="8.6" fill="#111" text-anchor="middle" >0</text>
<line x1="535.82" y1="366.0" x2="535.82" y2="364.5" stroke="#444" stroke-width="0.9"/>
<line x1="535.82" y1="221.8" x2="535.82" y2="223.3" stroke="#444" stroke-width="0.9"/>
<line x1="542.94" y1="366.0" x2="542.94" y2="364.5" stroke="#444" stroke-width="0.9"/>
<line x1="542.94" y1="221.8" x2="542.94" y2="223.3" stroke="#444" stroke-width="0.9"/>
<line x1="550.06" y1="366.0" x2="550.06" y2="364.5" stroke="#444" stroke-width="0.9"/>
<line x1="550.06" y1="221.8" x2="550.06" y2="223.3" stroke="#444" stroke-width="0.9"/>
<line x1="557.18" y1="366.0" x2="557.18" y2="364.5" stroke="#444" stroke-width="0.9"/>
<line x1="557.18" y1="221.8" x2="557.18" y2="223.3" stroke="#444" stroke-width="0.9"/>
<line x1="564.30" y1="366.0" x2="564.30" y2="363.2" stroke="#444" stroke-width="0.9"/>
<line x1="564.30" y1="221.8" x2="564.30" y2="224.60000000000002" stroke="#444" stroke-width="0.9"/>
<text x="564.50" y="376.3" font-size="8.6" fill="#111" text-anchor="middle" >10</text>
<line x1="571.42" y1="366.0" x2="571.42" y2="364.5" stroke="#444" stroke-width="0.9"/>
<line x1="571.42" y1="221.8" x2="571.42" y2="223.3" stroke="#444" stroke-width="0.9"/>
<line x1="578.54" y1="366.0" x2="578.54" y2="364.5" stroke="#444" stroke-width="0.9"/>
<line x1="578.54" y1="221.8" x2="578.54" y2="223.3" stroke="#444" stroke-width="0.9"/>
<line x1="585.66" y1="366.0" x2="585.66" y2="364.5" stroke="#444" stroke-width="0.9"/>
<line x1="585.66" y1="221.8" x2="585.66" y2="223.3" stroke="#444" stroke-width="0.9"/>
<line x1="592.78" y1="366.0" x2="592.78" y2="364.5" stroke="#444" stroke-width="0.9"/>
<line x1="592.78" y1="221.8" x2="592.78" y2="223.3" stroke="#444" stroke-width="0.9"/>
<line x1="599.90" y1="366.0" x2="599.90" y2="363.2" stroke="#444" stroke-width="0.9"/>
<line x1="599.90" y1="221.8" x2="599.90" y2="224.60000000000002" stroke="#444" stroke-width="0.9"/>
<text x="600.10" y="376.3" font-size="8.6" fill="#111" text-anchor="middle" >20</text>
<line x1="607.02" y1="366.0" x2="607.02" y2="364.5" stroke="#444" stroke-width="0.9"/>
<line x1="607.02" y1="221.8" x2="607.02" y2="223.3" stroke="#444" stroke-width="0.9"/>
<line x1="614.14" y1="366.0" x2="614.14" y2="364.5" stroke="#444" stroke-width="0.9"/>
<line x1="614.14" y1="221.8" x2="614.14" y2="223.3" stroke="#444" stroke-width="0.9"/>
<line x1="621.26" y1="366.0" x2="621.26" y2="364.5" stroke="#444" stroke-width="0.9"/>
<line x1="621.26" y1="221.8" x2="621.26" y2="223.3" stroke="#444" stroke-width="0.9"/>
<line x1="628.38" y1="366.0" x2="628.38" y2="364.5" stroke="#444" stroke-width="0.9"/>
<line x1="628.38" y1="221.8" x2="628.38" y2="223.3" stroke="#444" stroke-width="0.9"/>
<line x1="635.50" y1="366.0" x2="635.50" y2="363.2" stroke="#444" stroke-width="0.9"/>
<line x1="635.50" y1="221.8" x2="635.50" y2="224.60000000000002" stroke="#444" stroke-width="0.9"/>
<text x="635.70" y="376.3" font-size="8.6" fill="#111" text-anchor="middle" >30</text>
<line x1="642.62" y1="366.0" x2="642.62" y2="364.5" stroke="#444" stroke-width="0.9"/>
<line x1="642.62" y1="221.8" x2="642.62" y2="223.3" stroke="#444" stroke-width="0.9"/>
<line x1="649.74" y1="366.0" x2="649.74" y2="364.5" stroke="#444" stroke-width="0.9"/>
<line x1="649.74" y1="221.8" x2="649.74" y2="223.3" stroke="#444" stroke-width="0.9"/>
<line x1="656.86" y1="366.0" x2="656.86" y2="364.5" stroke="#444" stroke-width="0.9"/>
<line x1="656.86" y1="221.8" x2="656.86" y2="223.3" stroke="#444" stroke-width="0.9"/>
<line x1="663.98" y1="366.0" x2="663.98" y2="364.5" stroke="#444" stroke-width="0.9"/>
<line x1="663.98" y1="221.8" x2="663.98" y2="223.3" stroke="#444" stroke-width="0.9"/>
<line x1="671.10" y1="366.0" x2="671.10" y2="363.2" stroke="#444" stroke-width="0.9"/>
<line x1="671.10" y1="221.8" x2="671.10" y2="224.60000000000002" stroke="#444" stroke-width="0.9"/>
<text x="671.30" y="376.3" font-size="8.6" fill="#111" text-anchor="middle" >40</text>
<line x1="678.22" y1="366.0" x2="678.22" y2="364.5" stroke="#444" stroke-width="0.9"/>
<line x1="678.22" y1="221.8" x2="678.22" y2="223.3" stroke="#444" stroke-width="0.9"/>
<line x1="685.34" y1="366.0" x2="685.34" y2="364.5" stroke="#444" stroke-width="0.9"/>
<line x1="685.34" y1="221.8" x2="685.34" y2="223.3" stroke="#444" stroke-width="0.9"/>
<line x1="692.46" y1="366.0" x2="692.46" y2="364.5" stroke="#444" stroke-width="0.9"/>
<line x1="692.46" y1="221.8" x2="692.46" y2="223.3" stroke="#444" stroke-width="0.9"/>
<line x1="699.58" y1="366.0" x2="699.58" y2="364.5" stroke="#444" stroke-width="0.9"/>
<line x1="699.58" y1="221.8" x2="699.58" y2="223.3" stroke="#444" stroke-width="0.9"/>
<line x1="706.70" y1="366.0" x2="706.70" y2="363.2" stroke="#444" stroke-width="0.9"/>
<line x1="706.70" y1="221.8" x2="706.70" y2="224.60000000000002" stroke="#444" stroke-width="0.9"/>
<text x="706.90" y="376.3" font-size="8.6" fill="#111" text-anchor="middle" >50</text>
<line x1="713.82" y1="366.0" x2="713.82" y2="364.5" stroke="#444" stroke-width="0.9"/>
<line x1="713.82" y1="221.8" x2="713.82" y2="223.3" stroke="#444" stroke-width="0.9"/>
<line x1="720.94" y1="366.0" x2="720.94" y2="364.5" stroke="#444" stroke-width="0.9"/>
<line x1="720.94" y1="221.8" x2="720.94" y2="223.3" stroke="#444" stroke-width="0.9"/>
<line x1="528.7" y1="366.00" x2="531.3000000000001" y2="366.00" stroke="#444" stroke-width="0.9"/>
<line x1="724.5" y1="366.00" x2="721.9" y2="366.00" stroke="#444" stroke-width="0.9"/>
<text x="526.40" y="368.00" font-size="8.6" fill="#111" text-anchor="end" >0</text>
<line x1="528.7" y1="339.72" x2="531.3000000000001" y2="339.72" stroke="#444" stroke-width="0.9"/>
<line x1="724.5" y1="339.72" x2="721.9" y2="339.72" stroke="#444" stroke-width="0.9"/>
<text x="526.40" y="341.72" font-size="8.6" fill="#111" text-anchor="end" >20</text>
<line x1="528.7" y1="313.44" x2="531.3000000000001" y2="313.44" stroke="#444" stroke-width="0.9"/>
<line x1="724.5" y1="313.44" x2="721.9" y2="313.44" stroke="#444" stroke-width="0.9"/>
<text x="526.40" y="315.44" font-size="8.6" fill="#111" text-anchor="end" >40</text>
<line x1="528.7" y1="287.16" x2="531.3000000000001" y2="287.16" stroke="#444" stroke-width="0.9"/>
<line x1="724.5" y1="287.16" x2="721.9" y2="287.16" stroke="#444" stroke-width="0.9"/>
<text x="526.40" y="289.16" font-size="8.6" fill="#111" text-anchor="end" >60</text>
<line x1="528.7" y1="260.88" x2="531.3000000000001" y2="260.88" stroke="#444" stroke-width="0.9"/>
<line x1="724.5" y1="260.88" x2="721.9" y2="260.88" stroke="#444" stroke-width="0.9"/>
<text x="526.40" y="262.88" font-size="8.6" fill="#111" text-anchor="end" >80</text>
<line x1="528.7" y1="234.60" x2="531.3000000000001" y2="234.60" stroke="#444" stroke-width="0.9"/>
<line x1="724.5" y1="234.60" x2="721.9" y2="234.60" stroke="#444" stroke-width="0.9"/>
<text x="526.40" y="236.60" font-size="8.6" fill="#111" text-anchor="end" >100</text>
<text x="628.60" y="394.8" font-size="11.4" fill="#222" text-anchor="middle" textLength="84.2" lengthAdjust="spacingAndGlyphs" >Gradient (G/cm)</text>
<text transform="translate(502.1,298.7) rotate(-90)" x="0" y="0" font-size="11.2" fill="#222" text-anchor="middle" textLength="105.4" lengthAdjust="spacingAndGlyphs" font-family="Liberation Sans, sans-serif">Signal Intensity (AU)</text>
<line x1="285.6" y1="230.4" x2="285.6" y2="239.6" stroke="#c050e0" stroke-width="0.8"/>
<line x1="284.40000000000003" y1="230.4" x2="286.8" y2="230.4" stroke="#c050e0" stroke-width="0.8"/>
<line x1="284.40000000000003" y1="239.6" x2="286.8" y2="239.6" stroke="#c050e0" stroke-width="0.8"/>
<circle cx="285.6" cy="235.0" r="2.15" fill="#c050e0"/>
<line x1="331.2" y1="237.6" x2="331.2" y2="246.5" stroke="#8e16d0" stroke-width="0.8"/>
<line x1="330.0" y1="237.6" x2="332.4" y2="237.6" stroke="#8e16d0" stroke-width="0.8"/>
<line x1="330.0" y1="246.5" x2="332.4" y2="246.5" stroke="#8e16d0" stroke-width="0.8"/>
<circle cx="331.2" cy="242.3" r="2.15" fill="#8e16d0"/>
<line x1="376.6" y1="246.2" x2="376.6" y2="255.9" stroke="#8e16d0" stroke-width="0.8"/>
<line x1="375.40000000000003" y1="246.2" x2="377.8" y2="246.2" stroke="#8e16d0" stroke-width="0.8"/>
<line x1="375.40000000000003" y1="255.9" x2="377.8" y2="255.9" stroke="#8e16d0" stroke-width="0.8"/>
<circle cx="376.6" cy="251.2" r="2.15" fill="#8e16d0"/>
<line x1="422.1" y1="247.2" x2="422.1" y2="257.2" stroke="#8e16d0" stroke-width="0.8"/>
<line x1="420.90000000000003" y1="247.2" x2="423.3" y2="247.2" stroke="#8e16d0" stroke-width="0.8"/>
<line x1="420.90000000000003" y1="257.2" x2="423.3" y2="257.2" stroke="#8e16d0" stroke-width="0.8"/>
<circle cx="422.1" cy="252.2" r="2.15" fill="#8e16d0"/>
<line x1="467.4" y1="255.2" x2="467.4" y2="264.6" stroke="#8e16d0" stroke-width="0.8"/>
<line x1="466.2" y1="255.2" x2="468.59999999999997" y2="255.2" stroke="#8e16d0" stroke-width="0.8"/>
<line x1="466.2" y1="264.6" x2="468.59999999999997" y2="264.6" stroke="#8e16d0" stroke-width="0.8"/>
<circle cx="467.4" cy="260.3" r="2.15" fill="#8e16d0"/>
<line x1="285.6" y1="232.5" x2="285.6" y2="237.8" stroke="#1e6ff5" stroke-width="0.8"/>
<line x1="284.40000000000003" y1="232.5" x2="286.8" y2="232.5" stroke="#1e6ff5" stroke-width="0.8"/>
<line x1="284.40000000000003" y1="237.8" x2="286.8" y2="237.8" stroke="#1e6ff5" stroke-width="0.8"/>
<circle cx="285.6" cy="235.1" r="2.15" fill="#1e6ff5"/>
<line x1="331.2" y1="243" x2="331.2" y2="248.4" stroke="#1e6ff5" stroke-width="0.8"/>
<line x1="330.0" y1="243" x2="332.4" y2="243" stroke="#1e6ff5" stroke-width="0.8"/>
<line x1="330.0" y1="248.4" x2="332.4" y2="248.4" stroke="#1e6ff5" stroke-width="0.8"/>
<circle cx="331.2" cy="245.4" r="2.15" fill="#1e6ff5"/>
<line x1="376.6" y1="272.3" x2="376.6" y2="279.3" stroke="#1e6ff5" stroke-width="0.8"/>
<line x1="375.40000000000003" y1="272.3" x2="377.8" y2="272.3" stroke="#1e6ff5" stroke-width="0.8"/>
<line x1="375.40000000000003" y1="279.3" x2="377.8" y2="279.3" stroke="#1e6ff5" stroke-width="0.8"/>
<circle cx="376.6" cy="275.7" r="2.15" fill="#1e6ff5"/>
<line x1="421.9" y1="307.6" x2="421.9" y2="314.5" stroke="#1e6ff5" stroke-width="0.8"/>
<line x1="420.7" y1="307.6" x2="423.09999999999997" y2="307.6" stroke="#1e6ff5" stroke-width="0.8"/>
<line x1="420.7" y1="314.5" x2="423.09999999999997" y2="314.5" stroke="#1e6ff5" stroke-width="0.8"/>
<circle cx="421.9" cy="311.1" r="2.15" fill="#1e6ff5"/>
<line x1="467.5" y1="332.4" x2="467.5" y2="339.7" stroke="#1e6ff5" stroke-width="0.8"/>
<line x1="466.3" y1="332.4" x2="468.7" y2="332.4" stroke="#1e6ff5" stroke-width="0.8"/>
<line x1="466.3" y1="339.7" x2="468.7" y2="339.7" stroke="#1e6ff5" stroke-width="0.8"/>
<circle cx="467.5" cy="336.3" r="2.15" fill="#1e6ff5"/>
<path d="M528.70,234.60 L529.59,234.61 L530.48,234.64 L531.37,234.69 L532.26,234.76 L533.15,234.84 L534.04,234.95 L534.93,235.08 L535.82,235.22 L536.71,235.39 L537.60,235.57 L538.49,235.77 L539.38,235.99 L540.27,236.23 L541.16,236.49 L542.05,236.77 L542.94,237.07 L543.83,237.38 L544.72,237.72 L545.61,238.07 L546.50,238.44 L547.39,238.82 L548.28,239.23 L549.17,239.65 L550.06,240.09 L550.95,240.54 L551.84,241.02 L552.73,241.51 L553.62,242.01 L554.51,242.53 L555.40,243.07 L556.29,243.63 L557.18,244.20 L558.07,244.78 L558.96,245.38 L559.85,246.00 L560.74,246.63 L561.63,247.27 L562.52,247.93 L563.41,248.60 L564.30,249.28 L565.19,249.98 L566.08,250.69 L566.97,251.42 L567.86,252.15 L568.75,252.90 L569.64,253.66 L570.53,254.43 L571.42,255.21 L572.31,256.01 L573.20,256.81 L574.09,257.62 L574.98,258.45 L575.87,259.28 L576.76,260.12 L577.65,260.97 L578.54,261.83 L579.43,262.70 L580.32,263.58 L581.21,264.46 L582.10,265.35 L582.99,266.25 L583.88,267.16 L584.77,268.07 L585.66,268.98 L586.55,269.91 L587.44,270.83 L588.33,271.77 L589.22,272.70 L590.11,273.65 L591.00,274.59 L591.89,275.54 L592.78,276.49 L593.67,277.45 L594.56,278.41 L595.45,279.37 L596.34,280.33 L597.23,281.30 L598.12,282.27 L599.01,283.23 L599.90,284.20 L600.79,285.17 L601.68,286.14 L602.57,287.11 L603.46,288.08 L604.35,289.05 L605.24,290.02 L606.13,290.99 L607.02,291.95 L607.91,292.92 L608.80,293.88 L609.69,294.84 L610.58,295.80 L611.47,296.75 L612.36,297.71 L613.25,298.65 L614.14,299.60 L615.03,300.54 L615.92,301.48 L616.81,302.42 L617.70,303.35 L618.59,304.27 L619.48,305.19 L620.37,306.11 L621.26,307.02 L622.15,307.93 L623.04,308.83 L623.93,309.72 L624.82,310.61 L625.71,311.49 L626.60,312.37 L627.49,313.24 L628.38,314.11 L629.27,314.96 L630.16,315.81 L631.05,316.66 L631.94,317.50 L632.83,318.33 L633.72,319.15 L634.61,319.96 L635.50,320.77 L636.39,321.57 L637.28,322.36 L638.17,323.15 L639.06,323.92 L639.95,324.69 L640.84,325.45 L641.73,326.21 L642.62,326.95 L643.51,327.69 L644.40,328.42 L645.29,329.14 L646.18,329.85 L647.07,330.55 L647.96,331.24 L648.85,331.93 L649.74,332.61 L650.63,333.27 L651.52,333.93 L652.41,334.59 L653.30,335.23 L654.19,335.86 L655.08,336.49 L655.97,337.10 L656.86,337.71 L657.75,338.31 L658.64,338.90 L659.53,339.48 L660.42,340.05 L661.31,340.62 L662.20,341.18 L663.09,341.72 L663.98,342.26 L664.87,342.79 L665.76,343.31 L666.65,343.83 L667.54,344.33 L668.43,344.83 L669.32,345.32 L670.21,345.80 L671.10,346.27 L671.99,346.73 L672.88,347.19 L673.77,347.63 L674.66,348.07 L675.55,348.51 L676.44,348.93 L677.33,349.34 L678.22,349.75 L679.11,350.15 L680.00,350.55 L680.89,350.93 L681.78,351.31 L682.67,351.68 L683.56,352.04 L684.45,352.40 L685.34,352.75 L686.23,353.09 L687.12,353.43 L688.01,353.75 L688.90,354.08 L689.79,354.39 L690.68,354.70 L691.57,355.00 L692.46,355.29 L693.35,355.58 L694.24,355.87 L695.13,356.14 L696.02,356.41 L696.91,356.68 L697.80,356.93 L698.69,357.19 L699.58,357.43 L700.47,357.67 L701.36,357.91 L702.25,358.14 L703.14,358.36 L704.03,358.58 L704.92,358.80 L705.81,359.00 L706.70,359.21 L707.59,359.41 L708.48,359.60 L709.37,359.79 L710.26,359.97 L711.15,360.15 L712.04,360.33 L712.93,360.50 L713.82,360.67 L714.71,360.83 L715.60,360.99 L716.49,361.14 L717.38,361.29 L718.27,361.44 L719.16,361.58 L720.05,361.72 L720.94,361.85 L721.83,361.98 L722.72,362.11 L723.61,362.23 L724.50,362.35" fill="none" stroke="#6f9cf7" stroke-width="0.8"/>
<path d="M528.70,234.60 L529.59,234.61 L530.48,234.64 L531.37,234.68 L532.26,234.74 L533.15,234.82 L534.04,234.92 L534.93,235.04 L535.82,235.17 L536.71,235.32 L537.60,235.49 L538.49,235.68 L539.38,235.88 L540.27,236.10 L541.16,236.34 L542.05,236.60 L542.94,236.87 L543.83,237.16 L544.72,237.47 L545.61,237.79 L546.50,238.13 L547.39,238.49 L548.28,238.86 L549.17,239.25 L550.06,239.66 L550.95,240.08 L551.84,240.51 L552.73,240.97 L553.62,241.43 L554.51,241.92 L555.40,242.41 L556.29,242.93 L557.18,243.45 L558.07,244.00 L558.96,244.55 L559.85,245.12 L560.74,245.70 L561.63,246.30 L562.52,246.91 L563.41,247.53 L564.30,248.17 L565.19,248.82 L566.08,249.48 L566.97,250.15 L567.86,250.84 L568.75,251.53 L569.64,252.24 L570.53,252.96 L571.42,253.69 L572.31,254.43 L573.20,255.18 L574.09,255.94 L574.98,256.71 L575.87,257.49 L576.76,258.27 L577.65,259.07 L578.54,259.88 L579.43,260.69 L580.32,261.51 L581.21,262.34 L582.10,263.18 L582.99,264.02 L583.88,264.87 L584.77,265.73 L585.66,266.59 L586.55,267.46 L587.44,268.34 L588.33,269.22 L589.22,270.11 L590.11,271.00 L591.00,271.89 L591.89,272.79 L592.78,273.70 L593.67,274.60 L594.56,275.51 L595.45,276.43 L596.34,277.34 L597.23,278.26 L598.12,279.19 L599.01,280.11 L599.90,281.03 L600.79,281.96 L601.68,282.89 L602.57,283.82 L603.46,284.75 L604.35,285.68 L605.24,286.61 L606.13,287.54 L607.02,288.47 L607.91,289.40 L608.80,290.33 L609.69,291.25 L610.58,292.18 L611.47,293.10 L612.36,294.03 L613.25,294.95 L614.14,295.87 L615.03,296.78 L615.92,297.70 L616.81,298.61 L617.70,299.51 L618.59,300.42 L619.48,301.32 L620.37,302.22 L621.26,303.11 L622.15,304.00 L623.04,304.88 L623.93,305.76 L624.82,306.64 L625.71,307.51 L626.60,308.38 L627.49,309.24 L628.38,310.09 L629.27,310.94 L630.16,311.79 L631.05,312.63 L631.94,313.46 L632.83,314.29 L633.72,315.11 L634.61,315.92 L635.50,316.73 L636.39,317.54 L637.28,318.33 L638.17,319.12 L639.06,319.90 L639.95,320.68 L640.84,321.45 L641.73,322.21 L642.62,322.96 L643.51,323.71 L644.40,324.45 L645.29,325.18 L646.18,325.91 L647.07,326.62 L647.96,327.33 L648.85,328.03 L649.74,328.73 L650.63,329.42 L651.52,330.10 L652.41,330.77 L653.30,331.43 L654.19,332.09 L655.08,332.73 L655.97,333.37 L656.86,334.00 L657.75,334.63 L658.64,335.24 L659.53,335.85 L660.42,336.45 L661.31,337.04 L662.20,337.63 L663.09,338.20 L663.98,338.77 L664.87,339.33 L665.76,339.88 L666.65,340.43 L667.54,340.96 L668.43,341.49 L669.32,342.01 L670.21,342.52 L671.10,343.03 L671.99,343.53 L672.88,344.01 L673.77,344.50 L674.66,344.97 L675.55,345.44 L676.44,345.89 L677.33,346.35 L678.22,346.79 L679.11,347.22 L680.00,347.65 L680.89,348.07 L681.78,348.49 L682.67,348.90 L683.56,349.30 L684.45,349.69 L685.34,350.07 L686.23,350.45 L687.12,350.82 L688.01,351.19 L688.90,351.55 L689.79,351.90 L690.68,352.24 L691.57,352.58 L692.46,352.91 L693.35,353.24 L694.24,353.55 L695.13,353.87 L696.02,354.17 L696.91,354.47 L697.80,354.77 L698.69,355.05 L699.58,355.34 L700.47,355.61 L701.36,355.88 L702.25,356.15 L703.14,356.41 L704.03,356.66 L704.92,356.91 L705.81,357.15 L706.70,357.39 L707.59,357.62 L708.48,357.85 L709.37,358.07 L710.26,358.29 L711.15,358.50 L712.04,358.70 L712.93,358.91 L713.82,359.10 L714.71,359.30 L715.60,359.49 L716.49,359.67 L717.38,359.85 L718.27,360.03 L719.16,360.20 L720.05,360.36 L720.94,360.53 L721.83,360.69 L722.72,360.84 L723.61,360.99 L724.50,361.14" fill="none" stroke="#bb62e6" stroke-width="0.8"/>
<circle cx="537.32" cy="235.81" r="1.35" fill="#1e6ff5"/>
<circle cx="548.39" cy="239.58" r="1.35" fill="#1e6ff5"/>
<circle cx="559.46" cy="246.02" r="1.35" fill="#1e6ff5"/>
<circle cx="570.53" cy="254.73" r="1.35" fill="#1e6ff5"/>
<circle cx="581.60" cy="265.15" r="1.35" fill="#1e6ff5"/>
<circle cx="592.67" cy="276.68" r="1.35" fill="#1e6ff5"/>
<circle cx="603.74" cy="288.69" r="1.35" fill="#1e6ff5"/>
<circle cx="614.82" cy="300.62" r="1.35" fill="#1e6ff5"/>
<circle cx="625.89" cy="311.97" r="1.35" fill="#1e6ff5"/>
<circle cx="636.96" cy="322.38" r="1.35" fill="#1e6ff5"/>
<circle cx="648.03" cy="331.60" r="1.35" fill="#1e6ff5"/>
<circle cx="659.10" cy="339.50" r="1.35" fill="#1e6ff5"/>
<circle cx="670.17" cy="346.08" r="1.35" fill="#1e6ff5"/>
<circle cx="681.25" cy="351.38" r="1.35" fill="#1e6ff5"/>
<circle cx="692.32" cy="355.55" r="1.35" fill="#1e6ff5"/>
<circle cx="703.39" cy="358.72" r="1.35" fill="#1e6ff5"/>
<circle cx="537.32" cy="235.14" r="1.35" fill="#8e16d0"/>
<circle cx="548.39" cy="238.61" r="1.35" fill="#8e16d0"/>
<circle cx="559.46" cy="244.57" r="1.35" fill="#8e16d0"/>
<circle cx="570.53" cy="252.66" r="1.35" fill="#8e16d0"/>
<circle cx="581.60" cy="262.41" r="1.35" fill="#8e16d0"/>
<circle cx="592.67" cy="273.29" r="1.35" fill="#8e16d0"/>
<circle cx="603.74" cy="284.75" r="1.35" fill="#8e16d0"/>
<circle cx="614.82" cy="296.26" r="1.35" fill="#8e16d0"/>
<circle cx="625.89" cy="307.38" r="1.35" fill="#8e16d0"/>
<circle cx="636.96" cy="317.75" r="1.35" fill="#8e16d0"/>
<circle cx="648.03" cy="327.09" r="1.35" fill="#8e16d0"/>
<circle cx="659.10" cy="335.26" r="1.35" fill="#8e16d0"/>
<circle cx="670.17" cy="342.20" r="1.35" fill="#8e16d0"/>
<circle cx="681.25" cy="347.94" r="1.35" fill="#8e16d0"/>
<circle cx="692.32" cy="352.56" r="1.35" fill="#8e16d0"/>
<circle cx="703.39" cy="356.18" r="1.35" fill="#8e16d0"/>
<path d="M266.00,146.14 C266.33,146.19 267.33,146.42 268.00,146.44 C268.67,146.47 269.33,146.12 270.00,146.27 C270.67,146.42 271.33,147.13 272.00,147.34 C272.67,147.55 273.33,147.74 274.00,147.53 C274.67,147.31 275.33,146.45 276.00,146.07 C276.67,145.68 277.33,145.28 278.00,145.21 C278.67,145.14 279.33,145.63 280.00,145.64 C280.67,145.65 281.33,145.26 282.00,145.26 C282.67,145.26 283.33,145.36 284.00,145.63 C284.67,145.91 285.33,146.85 286.00,146.90 C286.67,146.94 287.33,146.05 288.00,145.90 C288.67,145.76 289.33,145.96 290.00,146.04 C290.67,146.12 291.33,146.16 292.00,146.38 C292.67,146.59 293.33,147.33 294.00,147.34 C294.67,147.35 295.33,146.55 296.00,146.45 C296.67,146.35 297.33,146.73 298.00,146.72 C298.67,146.72 299.33,146.63 300.00,146.42 C300.67,146.21 301.33,145.59 302.00,145.45 C302.67,145.32 303.33,145.41 304.00,145.60 C304.67,145.79 305.33,146.58 306.00,146.60 C306.67,146.63 307.33,145.84 308.00,145.76 C308.67,145.69 309.33,145.97 310.00,146.16 C310.67,146.35 311.33,146.92 312.00,146.89 C312.67,146.86 313.33,146.18 314.00,145.98 C314.67,145.78 315.33,145.59 316.00,145.67 C316.67,145.75 317.33,146.42 318.00,146.47 C318.67,146.51 319.33,146.00 320.00,145.92 C320.67,145.85 321.33,146.05 322.00,146.02 C322.67,145.99 323.33,145.74 324.00,145.75 C324.67,145.76 325.33,145.93 326.00,146.08 C326.67,146.23 327.33,146.67 328.00,146.62 C328.67,146.57 329.33,145.89 330.00,145.76 C330.67,145.63 331.33,145.95 332.00,145.85 C332.67,145.76 333.33,145.21 334.00,145.19 C334.67,145.18 335.33,145.61 336.00,145.79 C336.67,145.96 337.33,146.21 338.00,146.25 C338.67,146.28 339.33,146.12 340.00,146.00 C340.67,145.87 341.33,145.66 342.00,145.50 C342.67,145.34 343.33,145.09 344.00,145.05 C344.67,145.01 345.33,145.28 346.00,145.27 C346.67,145.25 347.33,144.93 348.00,144.94 C348.67,144.95 349.33,145.28 350.00,145.33 C350.67,145.37 351.12,145.69 352.00,145.20 C352.88,144.71 354.58,144.20 355.30,142.40 C356.02,140.60 355.98,136.58 356.30,134.40 C356.62,132.22 356.87,129.30 357.20,129.30 C357.53,129.30 357.95,131.88 358.30,134.40 C358.65,136.92 358.80,142.23 359.30,144.40 C359.80,146.57 360.52,147.02 361.30,147.40 C362.08,147.78 363.22,146.89 364.00,146.65 C364.78,146.41 365.33,146.07 366.00,145.97 C366.67,145.87 367.33,145.95 368.00,146.03 C368.67,146.11 369.33,146.37 370.00,146.47 C370.67,146.58 371.33,146.63 372.00,146.68 C372.67,146.74 373.33,146.85 374.00,146.80 C374.67,146.75 375.33,146.44 376.00,146.38 C376.67,146.32 377.33,146.40 378.00,146.43 C378.67,146.46 379.33,146.48 380.00,146.56 C380.67,146.63 381.33,146.86 382.00,146.89 C382.67,146.93 383.33,146.90 384.00,146.77 C384.67,146.64 385.33,146.14 386.00,146.13 C386.67,146.12 387.33,146.60 388.00,146.69 C388.67,146.78 389.33,146.87 390.00,146.66 C390.67,146.46 391.33,145.75 392.00,145.48 C392.67,145.21 393.33,144.85 394.00,145.04 C394.67,145.23 395.33,146.41 396.00,146.61 C396.67,146.81 397.33,146.18 398.00,146.24 C398.67,146.31 399.33,146.89 400.00,147.00 C400.67,147.10 401.33,146.98 402.00,146.87 C402.67,146.77 403.33,146.54 404.00,146.38 C404.67,146.23 405.33,145.94 406.00,145.96 C406.67,145.99 407.33,146.47 408.00,146.55 C408.67,146.64 409.33,146.62 410.00,146.49 C410.67,146.36 411.33,145.75 412.00,145.79 C412.67,145.82 413.33,146.58 414.00,146.70 C414.67,146.82 415.33,146.55 416.00,146.51 C416.67,146.47 417.33,146.41 418.00,146.45 C418.67,146.49 419.33,146.59 420.00,146.74 C420.67,146.90 421.33,147.22 422.00,147.37 C422.67,147.52 423.33,147.69 424.00,147.62 C424.67,147.55 425.33,146.91 426.00,146.94 C426.67,146.98 427.33,147.71 428.00,147.81 C428.67,147.91 429.33,147.61 430.00,147.54 C430.67,147.48 431.33,147.55 432.00,147.42 C432.67,147.28 433.33,146.72 434.00,146.73 C434.67,146.74 435.33,147.34 436.00,147.48 C436.67,147.62 437.33,147.64 438.00,147.58 C438.67,147.52 439.33,147.02 440.00,147.11 C440.67,147.19 441.33,147.95 442.00,148.08 C442.67,148.21 443.33,148.07 444.00,147.88 C444.67,147.70 445.33,147.04 446.00,146.98 C446.67,146.91 447.33,147.39 448.00,147.50 C448.67,147.61 449.33,147.73 450.00,147.66 C450.67,147.60 451.33,147.18 452.00,147.10 C452.67,147.01 453.33,147.14 454.00,147.16 C454.67,147.18 455.33,147.39 456.00,147.21 C456.67,147.03 457.33,146.20 458.00,146.06 C458.67,145.91 459.33,146.06 460.00,146.34 C460.67,146.63 461.33,147.62 462.00,147.77 C462.67,147.91 463.33,147.20 464.00,147.21 C464.67,147.23 465.33,147.78 466.00,147.86 C466.67,147.94 467.33,147.84 468.00,147.71 C468.67,147.58 469.33,147.20 470.00,147.09 C470.67,146.99 471.33,147.09 472.00,147.08 C472.67,147.07 473.33,146.88 474.00,147.04 C474.67,147.19 475.33,147.66 476.00,147.98 C476.67,148.29 477.33,148.72 478.00,148.91 C478.67,149.10 479.33,149.31 480.00,149.09 C480.67,148.88 481.33,147.94 482.00,147.61 C482.67,147.27 483.33,147.10 484.00,147.07 C484.67,147.04 485.67,147.35 486.00,147.41" fill="none" stroke="#f9a25a" stroke-width="0.9" stroke-linejoin="round" stroke-linecap="round" />
<path d="M266.00,145.40 C266.67,145.38 268.67,145.28 270.00,145.30 C271.33,145.32 273.00,145.45 274.00,145.50 C275.00,145.55 275.33,145.72 276.00,145.60 C276.67,145.48 277.33,145.03 278.00,144.80 C278.67,144.57 279.33,144.43 280.00,144.20 C280.67,143.97 281.17,143.57 282.00,143.40 C282.83,143.23 284.12,143.45 285.00,143.20 C285.88,142.95 286.50,141.90 287.30,141.90 C288.10,141.90 288.73,142.95 289.80,143.20 C290.87,143.45 292.72,143.78 293.70,143.40 C294.68,143.02 295.03,141.57 295.70,140.90 C296.37,140.23 296.98,139.80 297.70,139.40 C298.42,139.00 299.37,138.73 300.00,138.50 C300.63,138.27 300.88,138.37 301.50,138.00 C302.12,137.63 303.03,136.47 303.70,136.30 C304.37,136.13 304.95,136.73 305.50,137.00 C306.05,137.27 306.42,137.60 307.00,137.90 C307.58,138.20 308.45,138.55 309.00,138.80 C309.55,139.05 309.72,139.37 310.30,139.40 C310.88,139.43 311.77,138.70 312.50,139.00 C313.23,139.30 314.03,140.95 314.70,141.20 C315.37,141.45 315.95,140.75 316.50,140.50 C317.05,140.25 317.32,139.72 318.00,139.70 C318.68,139.68 319.87,140.42 320.60,140.40 C321.33,140.38 321.53,140.28 322.40,139.60 C323.27,138.92 324.78,137.03 325.80,136.30 C326.82,135.57 327.87,136.03 328.50,135.20 C329.13,134.37 329.27,133.07 329.60,131.30 C329.93,129.53 330.18,126.73 330.50,124.60 C330.82,122.47 331.17,120.52 331.50,118.50 C331.83,116.48 332.17,114.10 332.50,112.50 C332.83,110.90 333.08,109.90 333.50,108.90 C333.92,107.90 334.42,107.40 335.00,106.50 C335.58,105.60 336.33,104.52 337.00,103.50 C337.67,102.48 338.33,101.42 339.00,100.40 C339.67,99.38 340.50,98.03 341.00,97.40 C341.50,96.77 341.67,96.60 342.00,96.60 C342.33,96.60 342.67,96.67 343.00,97.40 C343.33,98.13 343.67,99.48 344.00,101.00 C344.33,102.52 344.58,104.68 345.00,106.50 C345.42,108.32 346.00,110.60 346.50,111.90 C347.00,113.20 347.42,113.70 348.00,114.30 C348.58,114.90 349.23,114.83 350.00,115.50 C350.77,116.17 351.78,117.52 352.60,118.30 C353.42,119.08 354.27,120.72 354.90,120.20 C355.53,119.68 355.95,117.08 356.40,115.20 C356.85,113.32 357.27,110.27 357.60,108.90 C357.93,107.53 358.08,106.68 358.40,107.00 C358.72,107.32 359.00,109.13 359.50,110.80 C360.00,112.47 360.43,115.75 361.40,117.00 C362.37,118.25 363.97,118.43 365.30,118.30 C366.63,118.17 368.05,117.22 369.40,116.20 C370.75,115.18 372.45,113.53 373.40,112.20 C374.35,110.87 374.48,109.03 375.10,108.20 C375.72,107.37 376.43,106.70 377.10,107.20 C377.77,107.70 378.27,109.70 379.10,111.20 C379.93,112.70 380.93,115.70 382.10,116.20 C383.27,116.70 384.58,114.47 386.10,114.20 C387.62,113.93 389.68,114.27 391.20,114.60 C392.72,114.93 394.03,116.93 395.20,116.20 C396.37,115.47 397.35,112.03 398.20,110.20 C399.05,108.37 399.57,104.87 400.30,105.20 C401.03,105.53 401.77,110.53 402.60,112.20 C403.43,113.87 404.35,113.85 405.30,115.20 C406.25,116.55 407.30,118.78 408.30,120.30 C409.30,121.82 409.97,122.97 411.30,124.30 C412.63,125.63 414.95,127.13 416.30,128.30 C417.65,129.47 418.45,130.12 419.40,131.30 C420.35,132.48 420.90,134.55 422.00,135.40 C423.10,136.25 424.83,135.90 426.00,136.40 C427.17,136.90 428.00,137.80 429.00,138.40 C430.00,139.00 430.83,139.65 432.00,140.00 C433.17,140.35 435.00,140.22 436.00,140.50 C437.00,140.78 437.33,141.25 438.00,141.70 C438.67,142.15 439.33,142.80 440.00,143.20 C440.67,143.60 441.42,144.05 442.00,144.10 C442.58,144.15 443.00,143.60 443.50,143.50 C444.00,143.40 444.42,143.35 445.00,143.50 C445.58,143.65 446.42,144.10 447.00,144.40 C447.58,144.70 448.00,145.35 448.50,145.30 C449.00,145.25 449.42,144.40 450.00,144.10 C450.58,143.80 451.42,143.50 452.00,143.50 C452.58,143.50 453.00,144.10 453.50,144.10 C454.00,144.10 454.42,143.62 455.00,143.50 C455.58,143.38 456.42,143.45 457.00,143.40 C457.58,143.35 458.00,143.18 458.50,143.20 C459.00,143.22 459.50,143.30 460.00,143.50 C460.50,143.70 461.00,144.15 461.50,144.40 C462.00,144.65 462.42,144.97 463.00,145.00 C463.58,145.03 464.28,144.63 465.00,144.60 C465.72,144.57 465.75,144.43 467.30,144.80 C468.85,145.17 472.12,146.53 474.30,146.80 C476.48,147.07 478.45,146.47 480.40,146.40 C482.35,146.33 485.07,146.40 486.00,146.40" fill="none" stroke="#a84be0" stroke-width="0.9" stroke-linejoin="round" stroke-linecap="round" />
<path d="M266.00,144.40 C266.42,144.38 267.67,144.28 268.50,144.30 C269.33,144.32 270.25,144.35 271.00,144.50 C271.75,144.65 272.17,145.05 273.00,145.20 C273.83,145.35 275.17,145.40 276.00,145.40 C276.83,145.40 277.42,145.32 278.00,145.20 C278.58,145.08 279.00,144.92 279.50,144.70 C280.00,144.48 280.50,143.95 281.00,143.90 C281.50,143.85 282.08,144.18 282.50,144.40 C282.92,144.62 283.08,145.03 283.50,145.20 C283.92,145.37 284.42,145.40 285.00,145.40 C285.58,145.40 286.50,145.45 287.00,145.20 C287.50,144.95 287.58,144.50 288.00,143.90 C288.42,143.30 289.05,142.38 289.50,141.60 C289.95,140.82 290.33,140.03 290.70,139.20 C291.07,138.37 291.38,137.47 291.70,136.60 C292.02,135.73 292.32,135.02 292.60,134.00 C292.88,132.98 292.97,132.45 293.40,130.50 C293.83,128.55 294.57,124.52 295.20,122.30 C295.83,120.08 296.53,118.55 297.20,117.20 C297.87,115.85 298.53,116.37 299.20,114.20 C299.87,112.03 300.60,107.38 301.20,104.20 C301.80,101.02 302.28,97.18 302.80,95.10 C303.32,93.02 303.82,91.70 304.30,91.70 C304.78,91.70 305.20,92.68 305.70,95.10 C306.20,97.52 306.77,102.68 307.30,106.20 C307.83,109.72 308.33,114.70 308.90,116.20 C309.47,117.70 310.13,114.85 310.70,115.20 C311.27,115.55 311.70,116.12 312.30,118.30 C312.90,120.48 313.63,125.78 314.30,128.30 C314.97,130.82 315.68,132.45 316.30,133.40 C316.92,134.35 317.30,133.68 318.00,134.00 C318.70,134.32 319.77,135.08 320.50,135.30 C321.23,135.52 321.77,135.62 322.40,135.30 C323.03,134.98 323.35,134.23 324.30,133.40 C325.25,132.57 327.15,131.87 328.10,130.30 C329.05,128.73 329.48,126.52 330.00,124.00 C330.52,121.48 330.85,117.72 331.20,115.20 C331.55,112.68 331.78,111.43 332.10,108.90 C332.42,106.37 332.77,103.15 333.10,100.00 C333.43,96.85 333.87,95.00 334.10,90.00 C334.33,85.00 334.37,76.67 334.50,70.00 C334.63,63.33 334.73,54.22 334.90,50.00 C335.07,45.78 335.18,45.80 335.50,44.70 C335.82,43.60 336.42,45.62 336.80,43.40 C337.18,41.18 337.48,36.43 337.80,31.40 C338.12,26.37 338.40,14.87 338.70,13.20 C339.00,11.53 339.28,17.73 339.60,21.40 C339.92,25.07 340.32,30.90 340.60,35.20 C340.88,39.50 340.98,47.20 341.30,47.20 C341.62,47.20 342.17,35.93 342.50,35.20 C342.83,34.47 342.95,44.47 343.30,42.80 C343.65,41.13 344.22,31.12 344.60,25.20 C344.98,19.28 345.27,8.35 345.60,7.30 C345.93,6.25 346.35,13.83 346.60,18.90 C346.85,23.97 346.95,32.52 347.10,37.70 C347.25,42.88 347.35,44.62 347.50,50.00 C347.65,55.38 347.85,63.33 348.00,70.00 C348.15,76.67 348.20,83.52 348.40,90.00 C348.60,96.48 348.85,103.87 349.20,108.90 C349.55,113.93 350.15,119.15 350.50,120.20 C350.85,121.25 350.95,117.08 351.30,115.20 C351.65,113.32 352.17,111.20 352.60,108.90 C353.03,106.60 353.48,104.12 353.90,101.40 C354.32,98.68 354.68,95.32 355.10,92.60 C355.52,89.88 355.92,86.82 356.40,85.10 C356.88,83.38 357.52,81.98 358.00,82.30 C358.48,82.62 358.90,85.80 359.30,87.00 C359.70,88.20 359.98,89.62 360.40,89.50 C360.82,89.38 361.32,88.08 361.80,86.30 C362.28,84.52 362.88,81.72 363.30,78.80 C363.72,75.88 363.98,72.27 364.30,68.80 C364.62,65.33 364.93,61.08 365.20,58.00 C365.47,54.92 365.45,52.08 365.90,50.30 C366.35,48.52 367.28,46.62 367.90,47.30 C368.52,47.98 369.12,51.03 369.60,54.40 C370.08,57.77 370.38,64.27 370.80,67.50 C371.22,70.73 371.52,71.82 372.10,73.80 C372.68,75.78 373.72,79.40 374.30,79.40 C374.88,79.40 375.23,77.03 375.60,73.80 C375.97,70.57 376.15,64.92 376.50,60.00 C376.85,55.08 377.17,48.43 377.70,44.30 C378.23,40.17 379.10,37.82 379.70,35.20 C380.30,32.58 380.83,28.27 381.30,28.60 C381.77,28.93 382.10,32.90 382.50,37.20 C382.90,41.50 383.25,50.08 383.70,54.40 C384.15,58.72 384.73,61.43 385.20,63.10 C385.67,64.77 386.07,64.50 386.50,64.40 C386.93,64.30 387.25,65.02 387.80,62.50 C388.35,59.98 389.13,53.00 389.80,49.30 C390.47,45.60 391.20,42.55 391.80,40.30 C392.40,38.05 392.93,35.30 393.40,35.80 C393.87,36.30 394.13,39.53 394.60,43.30 C395.07,47.07 395.82,54.15 396.20,58.40 C396.58,62.65 396.57,65.82 396.90,68.80 C397.23,71.78 397.82,74.53 398.20,76.30 C398.58,78.07 398.85,79.62 399.20,79.40 C399.55,79.18 399.90,76.98 400.30,75.00 C400.70,73.02 401.12,69.68 401.60,67.50 C402.08,65.32 402.68,62.42 403.20,61.90 C403.72,61.38 404.10,63.30 404.70,64.40 C405.30,65.50 406.17,68.40 406.80,68.50 C407.43,68.60 407.80,66.42 408.50,65.00 C409.20,63.58 410.35,60.00 411.00,60.00 C411.65,60.00 411.90,62.15 412.40,65.00 C412.90,67.85 413.47,73.42 414.00,77.10 C414.53,80.78 415.08,84.60 415.60,87.10 C416.12,89.60 416.35,91.15 417.10,92.10 C417.85,93.05 419.27,92.45 420.10,92.80 C420.93,93.15 421.53,92.47 422.10,94.20 C422.67,95.93 423.00,99.70 423.50,103.20 C424.00,106.70 424.50,111.85 425.10,115.20 C425.70,118.55 426.43,121.78 427.10,123.30 C427.77,124.82 428.27,124.47 429.10,124.30 C429.93,124.13 431.10,122.47 432.10,122.30 C433.10,122.13 434.37,122.18 435.10,123.30 C435.83,124.42 436.10,127.47 436.50,129.00 C436.90,130.53 437.17,131.50 437.50,132.50 C437.83,133.50 438.08,134.32 438.50,135.00 C438.92,135.68 439.42,136.23 440.00,136.60 C440.58,136.97 441.42,137.10 442.00,137.20 C442.58,137.30 443.00,137.05 443.50,137.20 C444.00,137.35 444.42,137.85 445.00,138.10 C445.58,138.35 446.42,138.70 447.00,138.70 C447.58,138.70 448.00,138.35 448.50,138.10 C449.00,137.85 449.25,137.35 450.00,137.20 C450.75,137.05 452.33,137.38 453.00,137.20 C453.67,137.02 453.67,136.25 454.00,136.10 C454.33,135.95 454.67,136.32 455.00,136.30 C455.33,136.28 455.63,136.42 456.00,136.00 C456.37,135.58 456.82,134.27 457.20,133.80 C457.58,133.33 457.92,133.15 458.30,133.20 C458.68,133.25 459.05,133.48 459.50,134.10 C459.95,134.72 460.58,135.93 461.00,136.90 C461.42,137.87 461.58,139.15 462.00,139.90 C462.42,140.65 463.00,141.05 463.50,141.40 C464.00,141.75 464.58,141.65 465.00,142.00 C465.42,142.35 465.45,143.17 466.00,143.50 C466.55,143.83 467.08,143.58 468.30,144.00 C469.52,144.42 471.80,145.87 473.30,146.00 C474.80,146.13 475.95,144.90 477.30,144.80 C478.65,144.70 479.95,145.20 481.40,145.40 C482.85,145.60 485.23,145.90 486.00,146.00" fill="none" stroke="#5a8df7" stroke-width="0.95" stroke-linejoin="round" stroke-linecap="round" />
<path d="M504.30,146.70 C505.12,146.62 507.50,145.82 509.20,146.20 C510.90,146.58 512.88,148.92 514.50,149.00 C516.12,149.08 517.28,147.47 518.90,146.70 C520.52,145.93 522.15,144.55 524.20,144.40 C526.25,144.25 528.72,145.42 531.20,145.80 C533.68,146.18 537.05,146.50 539.10,146.70 C541.15,146.90 542.18,146.53 543.50,147.00 C544.82,147.47 545.73,149.45 547.00,149.50 C548.27,149.55 549.50,147.67 551.10,147.30 C552.70,146.93 555.00,147.22 556.60,147.30 C558.20,147.38 559.43,147.98 560.70,147.80 C561.97,147.62 563.27,147.40 564.20,146.20 C565.13,145.00 565.72,142.68 566.30,140.60 C566.88,138.52 567.13,136.00 567.70,133.70 C568.27,131.40 569.02,128.98 569.70,126.80 C570.38,124.62 571.22,122.22 571.80,120.60 C572.38,118.98 572.62,116.87 573.20,117.10 C573.78,117.33 574.72,121.65 575.30,122.00 C575.88,122.35 576.17,120.28 576.70,119.20 C577.23,118.12 577.93,115.15 578.50,115.50 C579.07,115.85 579.60,118.27 580.10,121.30 C580.60,124.33 581.03,130.70 581.50,133.70 C581.97,136.70 582.32,138.25 582.90,139.30 C583.48,140.35 584.27,139.32 585.00,140.00 C585.73,140.68 586.45,143.52 587.30,143.40 C588.15,143.28 589.22,139.65 590.10,139.30 C590.98,138.95 591.62,141.08 592.60,141.30 C593.58,141.52 594.93,141.63 596.00,140.60 C597.07,139.57 598.08,135.43 599.00,135.10 C599.92,134.77 600.62,138.02 601.50,138.60 C602.38,139.18 603.42,138.27 604.30,138.60 C605.18,138.93 605.88,141.18 606.80,140.60 C607.72,140.02 608.72,136.75 609.80,135.10 C610.88,133.45 612.37,130.70 613.30,130.70 C614.23,130.70 614.72,133.78 615.40,135.10 C616.08,136.42 616.67,138.42 617.40,138.60 C618.13,138.78 618.93,136.13 619.80,136.20 C620.67,136.27 621.68,139.45 622.60,139.00 C623.52,138.55 624.55,134.03 625.30,133.50 C626.05,132.97 626.33,134.62 627.10,135.80 C627.87,136.98 628.97,139.80 629.90,140.60 C630.83,141.40 631.78,140.70 632.70,140.60 C633.62,140.50 634.37,139.65 635.40,140.00 C636.43,140.35 637.75,142.37 638.90,142.70 C640.05,143.03 641.15,141.88 642.30,142.00 C643.45,142.12 644.65,143.12 645.80,143.40 C646.95,143.68 648.10,143.82 649.20,143.70 C650.30,143.58 651.60,142.83 652.40,142.70 C653.20,142.57 652.90,142.17 654.00,142.90 C655.10,143.63 657.53,146.52 659.00,147.10 C660.47,147.68 661.33,146.47 662.80,146.40 C664.27,146.33 666.13,146.28 667.80,146.70 C669.47,147.12 671.33,148.42 672.80,148.90 C674.27,149.38 675.55,149.38 676.60,149.60 C677.65,149.82 678.37,150.68 679.10,150.20 C679.83,149.72 679.95,147.43 681.00,146.70 C682.05,145.97 684.03,145.68 685.40,145.80 C686.77,145.92 687.93,147.05 689.20,147.40 C690.47,147.75 691.85,148.38 693.00,147.90 C694.15,147.42 695.17,144.43 696.10,144.50 C697.03,144.57 697.77,147.57 698.60,148.30 C699.43,149.03 700.27,148.58 701.10,148.90 C701.93,149.22 702.87,150.45 703.60,150.20 C704.33,149.95 704.87,148.45 705.50,147.40 C706.13,146.35 706.57,144.17 707.40,143.90 C708.23,143.63 709.35,145.22 710.50,145.80 C711.65,146.38 712.93,147.30 714.30,147.40 C715.67,147.50 717.45,146.57 718.70,146.40 C719.95,146.23 720.85,146.08 721.80,146.40 C722.75,146.72 723.97,147.98 724.40,148.30" fill="none" stroke="#3cc6f6" stroke-width="0.9" stroke-linejoin="round" stroke-linecap="round" />
<path d="M504.30,147.60 C504.97,147.30 506.90,145.87 508.30,145.80 C509.70,145.73 511.08,147.20 512.70,147.20 C514.32,147.20 516.08,145.80 518.00,145.80 C519.92,145.80 522.00,146.83 524.20,147.20 C526.40,147.57 528.87,148.00 531.20,148.00 C533.53,148.00 536.27,147.62 538.20,147.20 C540.13,146.78 541.47,145.32 542.80,145.50 C544.13,145.68 545.05,148.07 546.20,148.30 C547.35,148.53 548.43,147.25 549.70,146.90 C550.97,146.55 552.42,146.67 553.80,146.20 C555.18,145.73 556.85,144.33 558.00,144.10 C559.15,143.87 559.90,145.60 560.70,144.80 C561.50,144.00 562.22,141.38 562.80,139.30 C563.38,137.22 563.73,135.53 564.20,132.30 C564.67,129.07 565.20,124.27 565.60,119.90 C566.00,115.53 566.30,110.75 566.60,106.10 C566.90,101.45 567.18,94.65 567.40,92.00 C567.62,89.35 567.70,93.02 567.90,90.20 C568.10,87.38 568.33,79.72 568.60,75.10 C568.87,70.48 569.20,66.68 569.50,62.50 C569.80,58.32 570.15,54.33 570.40,50.00 C570.65,45.67 570.68,39.60 571.00,36.50 C571.32,33.40 571.87,31.20 572.30,31.40 C572.73,31.60 573.18,35.28 573.60,37.70 C574.02,40.12 574.38,46.95 574.80,45.90 C575.22,44.85 575.73,36.53 576.10,31.40 C576.47,26.27 576.65,19.60 577.00,15.10 C577.35,10.60 577.83,4.82 578.20,4.40 C578.57,3.98 578.93,8.10 579.20,12.60 C579.47,17.10 579.60,25.17 579.80,31.40 C580.00,37.63 580.23,42.72 580.40,50.00 C580.57,57.28 580.67,67.60 580.80,75.10 C580.93,82.60 581.03,89.38 581.20,95.00 C581.37,100.62 581.52,104.65 581.80,108.80 C582.08,112.95 582.37,117.37 582.90,119.90 C583.43,122.43 584.37,122.38 585.00,124.00 C585.63,125.62 586.13,129.93 586.70,129.60 C587.27,129.27 587.83,124.20 588.40,122.00 C588.97,119.80 589.45,116.63 590.10,116.40 C590.75,116.17 591.55,120.93 592.30,120.60 C593.05,120.27 593.95,116.50 594.60,114.40 C595.25,112.30 595.75,110.40 596.20,108.00 C596.65,105.60 596.92,104.23 597.30,100.00 C597.68,95.77 597.98,86.55 598.50,82.60 C599.02,78.65 599.82,75.88 600.40,76.30 C600.98,76.72 601.58,81.98 602.00,85.10 C602.42,88.22 602.47,91.73 602.90,95.00 C603.33,98.27 604.02,102.43 604.60,104.70 C605.18,106.97 605.80,108.83 606.40,108.60 C607.00,108.37 607.75,105.57 608.20,103.30 C608.65,101.03 608.73,99.07 609.10,95.00 C609.47,90.93 609.70,82.63 610.40,78.90 C611.10,75.17 612.57,72.60 613.30,72.60 C614.03,72.60 614.27,75.17 614.80,78.90 C615.33,82.63 615.98,90.25 616.50,95.00 C617.02,99.75 617.28,106.02 617.90,107.40 C618.52,108.78 619.47,104.70 620.20,103.30 C620.93,101.90 621.83,99.80 622.30,99.00 C622.77,98.20 622.62,99.77 623.00,98.50 C623.38,97.23 624.02,93.25 624.60,91.40 C625.18,89.55 625.93,87.40 626.50,87.40 C627.07,87.40 627.43,88.28 628.00,91.40 C628.57,94.52 629.28,102.97 629.90,106.10 C630.52,109.23 631.08,110.43 631.70,110.20 C632.32,109.97 632.98,106.20 633.60,104.70 C634.22,103.20 634.80,100.97 635.40,101.20 C636.00,101.43 636.62,103.90 637.20,106.10 C637.78,108.30 638.27,112.33 638.90,114.40 C639.53,116.47 640.20,117.35 641.00,118.50 C641.80,119.65 642.78,119.68 643.70,121.30 C644.62,122.92 645.58,126.25 646.50,128.20 C647.42,130.15 648.22,132.88 649.20,133.00 C650.18,133.12 651.47,129.12 652.40,128.90 C653.33,128.68 654.12,130.77 654.80,131.70 C655.48,132.63 655.68,133.08 656.50,134.50 C657.32,135.92 658.65,138.95 659.70,140.20 C660.75,141.45 661.65,141.83 662.80,142.00 C663.95,142.17 665.45,141.05 666.60,141.20 C667.75,141.35 668.67,142.23 669.70,142.90 C670.73,143.57 671.65,144.78 672.80,145.20 C673.95,145.62 675.33,145.30 676.60,145.40 C677.87,145.50 679.13,145.63 680.40,145.80 C681.67,145.97 682.95,146.30 684.20,146.40 C685.45,146.50 686.75,146.92 687.90,146.40 C689.05,145.88 690.05,143.40 691.10,143.30 C692.15,143.20 693.17,145.17 694.20,145.80 C695.23,146.43 696.25,147.32 697.30,147.10 C698.35,146.88 699.45,145.13 700.50,144.50 C701.55,143.87 702.77,143.98 703.60,143.30 C704.43,142.62 704.87,140.40 705.50,140.40 C706.13,140.40 706.67,142.40 707.40,143.30 C708.13,144.20 709.07,145.17 709.90,145.80 C710.73,146.43 711.45,147.45 712.40,147.10 C713.35,146.75 714.55,144.18 715.60,143.70 C716.65,143.22 717.67,143.63 718.70,144.20 C719.73,144.77 720.85,146.90 721.80,147.10 C722.75,147.30 723.97,145.68 724.40,145.40" fill="none" stroke="#4a6ff0" stroke-width="0.9" stroke-linejoin="round" stroke-linecap="round" />
<path d="M1.00,356.00 C2.00,356.48 4.82,358.55 7.00,358.90 C9.18,359.25 11.75,358.23 14.10,358.10 C16.45,357.97 18.32,358.45 21.10,358.10 C23.88,357.75 27.87,356.15 30.80,356.00 C33.73,355.85 35.92,357.45 38.70,357.20 C41.48,356.95 45.00,354.70 47.50,354.50 C50.00,354.30 51.65,355.70 53.70,356.00 C55.75,356.30 58.25,356.98 59.80,356.30 C61.35,355.62 62.05,354.25 63.00,351.90 C63.95,349.55 64.57,345.72 65.50,342.20 C66.43,338.68 67.63,333.87 68.60,330.80 C69.57,327.73 70.27,324.83 71.30,323.80 C72.33,322.77 73.78,323.73 74.80,324.60 C75.82,325.47 76.52,326.35 77.40,329.00 C78.28,331.65 79.07,337.12 80.10,340.50 C81.13,343.88 82.28,347.55 83.60,349.30 C84.92,351.05 86.68,350.27 88.00,351.00 C89.32,351.73 90.18,353.55 91.50,353.70 C92.82,353.85 94.15,352.35 95.90,351.90 C97.65,351.45 100.23,351.15 102.00,351.00 C103.77,350.85 105.02,351.52 106.50,351.00 C107.98,350.48 109.73,347.90 110.90,347.90 C112.07,347.90 112.33,349.95 113.50,351.00 C114.67,352.05 116.43,354.13 117.90,354.20 C119.37,354.27 120.68,351.93 122.30,351.40 C123.92,350.87 125.98,351.35 127.60,351.00 C129.22,350.65 130.53,349.65 132.00,349.30 C133.47,348.95 135.08,348.32 136.40,348.90 C137.72,349.48 138.43,351.62 139.90,352.80 C141.37,353.98 143.43,355.57 145.20,356.00 C146.97,356.43 148.73,355.35 150.50,355.40 C152.27,355.45 154.05,356.20 155.80,356.30 C157.55,356.40 159.25,356.05 161.00,356.00 C162.75,355.95 164.53,355.80 166.30,356.00 C168.07,356.20 169.83,357.20 171.60,357.20 C173.37,357.20 174.85,356.00 176.90,356.00 C178.95,356.00 181.85,357.08 183.90,357.20 C185.95,357.32 187.43,356.55 189.20,356.70 C190.97,356.85 192.75,358.02 194.50,358.10 C196.25,358.18 197.80,357.65 199.70,357.20 C201.60,356.75 203.98,355.85 205.90,355.40 C207.82,354.95 209.43,354.20 211.20,354.50 C212.97,354.80 214.83,356.90 216.50,357.20 C218.17,357.50 220.42,356.45 221.20,356.30" fill="none" stroke="#e294ea" stroke-width="0.9" stroke-linejoin="round" stroke-linecap="round" />
<path d="M1.00,359.80 C1.72,359.17 4.00,356.28 5.30,356.00 C6.60,355.72 7.48,357.32 8.80,358.10 C10.12,358.88 11.73,360.85 13.20,360.70 C14.67,360.55 16.13,357.35 17.60,357.20 C19.07,357.05 20.68,360.00 22.00,359.80 C23.32,359.60 24.33,356.28 25.50,356.00 C26.67,355.72 27.82,357.40 29.00,358.10 C30.18,358.80 31.27,360.20 32.60,360.20 C33.93,360.20 35.40,358.52 37.00,358.10 C38.60,357.68 40.60,358.05 42.20,357.70 C43.80,357.35 45.13,356.28 46.60,356.00 C48.07,355.72 49.38,355.80 51.00,356.00 C52.62,356.20 54.83,357.45 56.30,357.20 C57.77,356.95 58.77,355.82 59.80,354.50 C60.83,353.18 61.77,351.63 62.50,349.30 C63.23,346.97 63.53,344.02 64.20,340.50 C64.87,336.98 65.70,331.58 66.50,328.20 C67.30,324.82 68.20,321.97 69.00,320.20 C69.80,318.43 70.48,317.60 71.30,317.60 C72.12,317.60 73.03,319.32 73.90,320.20 C74.77,321.08 75.77,321.28 76.50,322.90 C77.23,324.52 77.57,327.55 78.30,329.90 C79.03,332.25 79.93,334.95 80.90,337.00 C81.87,339.05 83.15,341.18 84.10,342.20 C85.05,343.22 85.80,342.65 86.60,343.10 C87.40,343.55 88.23,345.92 88.90,344.90 C89.57,343.88 90.02,339.55 90.60,337.00 C91.18,334.45 91.82,329.90 92.40,329.60 C92.98,329.30 93.43,333.10 94.10,335.20 C94.77,337.30 95.52,340.88 96.40,342.20 C97.28,343.52 98.32,342.57 99.40,343.10 C100.48,343.63 101.87,344.82 102.90,345.40 C103.93,345.98 104.72,346.98 105.60,346.60 C106.48,346.22 107.08,344.12 108.20,343.10 C109.32,342.08 111.12,340.20 112.30,340.50 C113.48,340.80 114.07,344.32 115.30,344.90 C116.53,345.48 118.38,344.30 119.70,344.00 C121.02,343.70 121.88,342.87 123.20,343.10 C124.52,343.33 126.28,345.68 127.60,345.40 C128.92,345.12 129.93,342.57 131.10,341.40 C132.27,340.23 133.42,338.32 134.60,338.40 C135.78,338.48 137.17,341.12 138.20,341.90 C139.23,342.68 139.93,342.17 140.80,343.10 C141.67,344.03 142.52,346.82 143.40,347.50 C144.28,348.18 145.22,346.97 146.10,347.20 C146.98,347.43 147.82,348.70 148.70,348.90 C149.58,349.10 150.52,348.05 151.40,348.40 C152.28,348.75 153.13,350.85 154.00,351.00 C154.87,351.15 155.72,349.00 156.60,349.30 C157.48,349.60 158.27,351.68 159.30,352.80 C160.33,353.92 161.78,355.12 162.80,356.00 C163.82,356.88 164.58,357.32 165.40,358.10 C166.22,358.88 166.82,360.77 167.70,360.70 C168.58,360.63 169.62,358.67 170.70,357.70 C171.78,356.73 173.03,355.13 174.20,354.90 C175.37,354.67 176.67,356.50 177.70,356.30 C178.73,356.10 179.52,353.55 180.40,353.70 C181.28,353.85 181.83,356.77 183.00,357.20 C184.17,357.63 185.93,356.75 187.40,356.30 C188.87,355.85 190.33,354.50 191.80,354.50 C193.27,354.50 194.88,355.70 196.20,356.30 C197.52,356.90 198.23,358.33 199.70,358.10 C201.17,357.87 203.38,355.73 205.00,354.90 C206.62,354.07 207.93,352.80 209.40,353.10 C210.87,353.40 212.48,356.02 213.80,356.70 C215.12,357.38 216.07,357.27 217.30,357.20 C218.53,357.13 220.55,356.45 221.20,356.30" fill="none" stroke="#a346e2" stroke-width="0.9" stroke-linejoin="round" stroke-linecap="round" />
</svg></body></html>
